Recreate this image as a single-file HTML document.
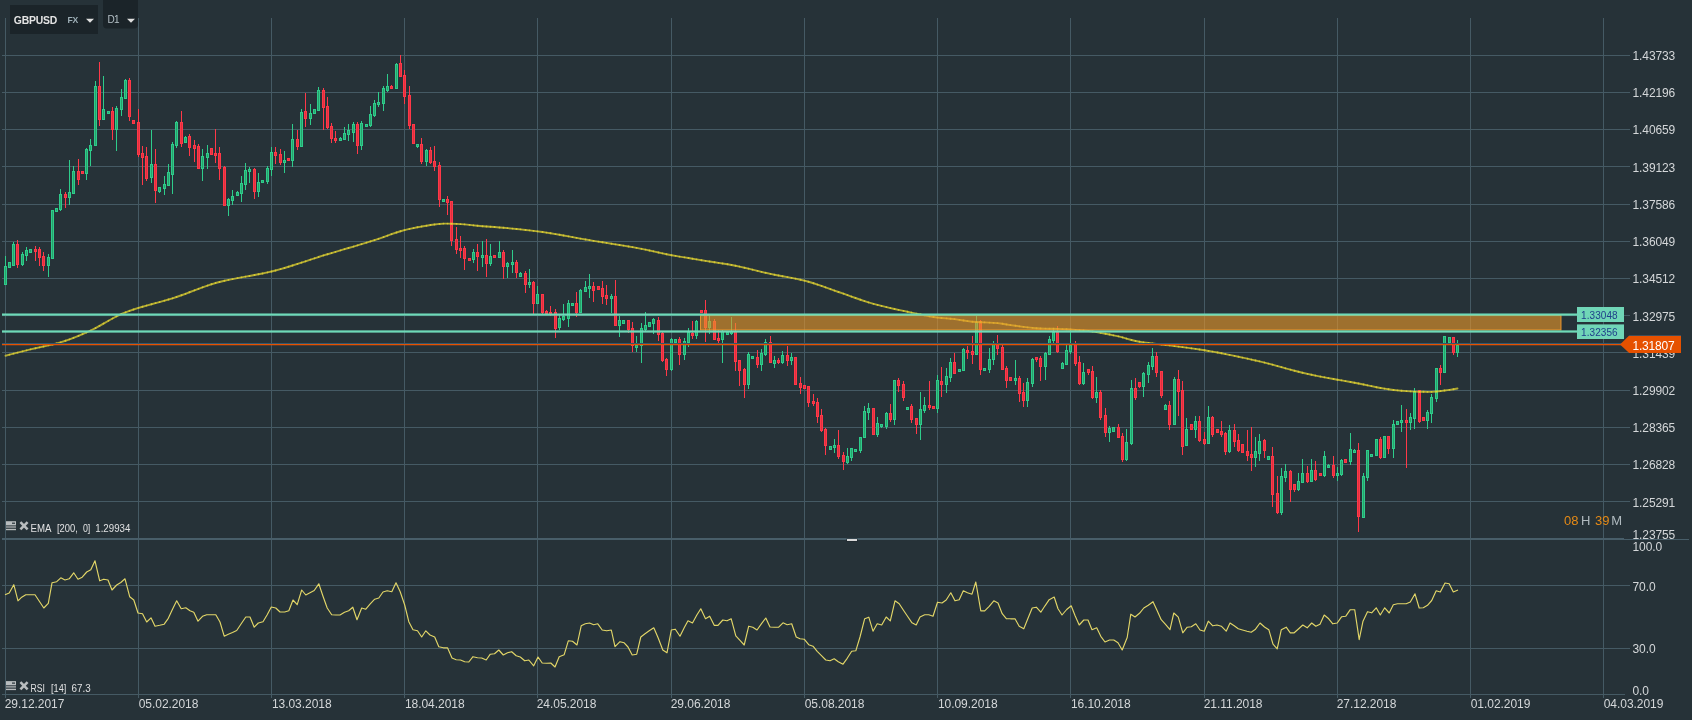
<!DOCTYPE html>
<html lang="en"><head><meta charset="utf-8"><title>GBPUSD D1</title>
<style>html,body{margin:0;padding:0;background:#263238;overflow:hidden}svg text{white-space:pre}</style>
</head><body>
<svg width="1692" height="720" viewBox="0 0 1692 720" style="display:block;will-change:transform">
<rect x="0" y="0" width="1692" height="720" fill="#263238"/>
<g fill="#455a64" shape-rendering="crispEdges">
<rect x="2" y="55" width="1628" height="1"/>
<rect x="2" y="92" width="1628" height="1"/>
<rect x="2" y="129" width="1628" height="1"/>
<rect x="2" y="166" width="1628" height="1"/>
<rect x="2" y="204" width="1628" height="1"/>
<rect x="2" y="241" width="1628" height="1"/>
<rect x="2" y="278" width="1628" height="1"/>
<rect x="2" y="315" width="1628" height="1"/>
<rect x="2" y="352" width="1628" height="1"/>
<rect x="2" y="390" width="1628" height="1"/>
<rect x="2" y="427" width="1628" height="1"/>
<rect x="2" y="464" width="1628" height="1"/>
<rect x="2" y="501" width="1628" height="1"/>
<rect x="2" y="585" width="1628" height="1"/>
<rect x="2" y="648" width="1628" height="1"/>
<rect x="2" y="694" width="1623" height="1"/>
<rect x="5" y="18" width="1" height="680"/>
<rect x="138" y="18" width="1" height="680"/>
<rect x="271" y="18" width="1" height="680"/>
<rect x="404" y="18" width="1" height="680"/>
<rect x="537" y="18" width="1" height="680"/>
<rect x="671" y="18" width="1" height="680"/>
<rect x="804" y="18" width="1" height="680"/>
<rect x="937" y="18" width="1" height="680"/>
<rect x="1070" y="18" width="1" height="680"/>
<rect x="1204" y="18" width="1" height="680"/>
<rect x="1337" y="18" width="1" height="680"/>
<rect x="1470" y="18" width="1" height="680"/>
<rect x="1603" y="18" width="1" height="680"/>
</g>
<g shape-rendering="crispEdges">
<rect x="5" y="256" width="1" height="10" fill="#2ecc8b"/>
<rect x="4" y="266" width="3" height="19" fill="#2ecc8b"/>
<rect x="5" y="267" width="1" height="17" fill="#27a26b"/>
<rect x="8" y="262" width="3" height="6" fill="#2ecc8b"/>
<rect x="9" y="263" width="1" height="4" fill="#27a26b"/>
<rect x="13" y="242" width="1" height="2" fill="#2ecc8b"/>
<rect x="12" y="244" width="3" height="22" fill="#2ecc8b"/>
<rect x="13" y="245" width="1" height="20" fill="#27a26b"/>
<rect x="17" y="240" width="1" height="4" fill="#ff3848"/>
<rect x="17" y="265" width="1" height="3" fill="#ff3848"/>
<rect x="16" y="244" width="3" height="21" fill="#ff3848"/>
<rect x="17" y="245" width="1" height="19" fill="#df303f"/>
<rect x="22" y="252" width="1" height="2" fill="#2ecc8b"/>
<rect x="22" y="265" width="1" height="1" fill="#2ecc8b"/>
<rect x="21" y="254" width="3" height="11" fill="#2ecc8b"/>
<rect x="22" y="255" width="1" height="9" fill="#27a26b"/>
<rect x="26" y="247" width="1" height="3" fill="#2ecc8b"/>
<rect x="26" y="256" width="1" height="5" fill="#2ecc8b"/>
<rect x="25" y="250" width="3" height="6" fill="#2ecc8b"/>
<rect x="26" y="251" width="1" height="4" fill="#27a26b"/>
<rect x="29" y="249" width="3" height="4" fill="#2ecc8b"/>
<rect x="30" y="250" width="1" height="2" fill="#27a26b"/>
<rect x="35" y="246" width="1" height="3" fill="#ff3848"/>
<rect x="35" y="252" width="1" height="9" fill="#ff3848"/>
<rect x="34" y="249" width="3" height="3" fill="#ff3848"/>
<rect x="35" y="250" width="1" height="1" fill="#df303f"/>
<rect x="39" y="247" width="1" height="2" fill="#ff3848"/>
<rect x="39" y="258" width="1" height="8" fill="#ff3848"/>
<rect x="38" y="249" width="3" height="9" fill="#ff3848"/>
<rect x="39" y="250" width="1" height="7" fill="#df303f"/>
<rect x="43" y="252" width="1" height="4" fill="#ff3848"/>
<rect x="43" y="266" width="1" height="5" fill="#ff3848"/>
<rect x="42" y="256" width="3" height="10" fill="#ff3848"/>
<rect x="43" y="257" width="1" height="8" fill="#df303f"/>
<rect x="48" y="254" width="1" height="3" fill="#2ecc8b"/>
<rect x="48" y="266" width="1" height="11" fill="#2ecc8b"/>
<rect x="47" y="257" width="3" height="9" fill="#2ecc8b"/>
<rect x="48" y="258" width="1" height="7" fill="#27a26b"/>
<rect x="51" y="210" width="3" height="49" fill="#2ecc8b"/>
<rect x="52" y="211" width="1" height="47" fill="#27a26b"/>
<rect x="55" y="208" width="3" height="4" fill="#2ecc8b"/>
<rect x="56" y="209" width="1" height="2" fill="#27a26b"/>
<rect x="60" y="189" width="1" height="5" fill="#2ecc8b"/>
<rect x="60" y="210" width="1" height="1" fill="#2ecc8b"/>
<rect x="59" y="194" width="3" height="16" fill="#2ecc8b"/>
<rect x="60" y="195" width="1" height="14" fill="#27a26b"/>
<rect x="65" y="192" width="1" height="2" fill="#ff3848"/>
<rect x="65" y="198" width="1" height="10" fill="#ff3848"/>
<rect x="64" y="194" width="3" height="4" fill="#ff3848"/>
<rect x="65" y="195" width="1" height="2" fill="#df303f"/>
<rect x="69" y="160" width="1" height="32" fill="#2ecc8b"/>
<rect x="69" y="198" width="1" height="7" fill="#2ecc8b"/>
<rect x="68" y="192" width="3" height="6" fill="#2ecc8b"/>
<rect x="69" y="193" width="1" height="4" fill="#27a26b"/>
<rect x="73" y="166" width="1" height="5" fill="#2ecc8b"/>
<rect x="72" y="171" width="3" height="23" fill="#2ecc8b"/>
<rect x="73" y="172" width="1" height="21" fill="#27a26b"/>
<rect x="78" y="159" width="1" height="12" fill="#ff3848"/>
<rect x="78" y="180" width="1" height="5" fill="#ff3848"/>
<rect x="77" y="171" width="3" height="9" fill="#ff3848"/>
<rect x="78" y="172" width="1" height="7" fill="#df303f"/>
<rect x="81" y="171" width="3" height="3" fill="#ff3848"/>
<rect x="82" y="172" width="1" height="1" fill="#df303f"/>
<rect x="86" y="148" width="1" height="1" fill="#2ecc8b"/>
<rect x="86" y="174" width="1" height="6" fill="#2ecc8b"/>
<rect x="85" y="149" width="3" height="25" fill="#2ecc8b"/>
<rect x="86" y="150" width="1" height="23" fill="#27a26b"/>
<rect x="90" y="139" width="1" height="6" fill="#2ecc8b"/>
<rect x="90" y="151" width="1" height="15" fill="#2ecc8b"/>
<rect x="89" y="145" width="3" height="6" fill="#2ecc8b"/>
<rect x="90" y="146" width="1" height="4" fill="#27a26b"/>
<rect x="95" y="81" width="1" height="5" fill="#2ecc8b"/>
<rect x="94" y="86" width="3" height="60" fill="#2ecc8b"/>
<rect x="95" y="87" width="1" height="58" fill="#27a26b"/>
<rect x="99" y="62" width="1" height="24" fill="#ff3848"/>
<rect x="99" y="120" width="1" height="6" fill="#ff3848"/>
<rect x="98" y="86" width="3" height="34" fill="#ff3848"/>
<rect x="99" y="87" width="1" height="32" fill="#df303f"/>
<rect x="103" y="76" width="1" height="33" fill="#2ecc8b"/>
<rect x="102" y="109" width="3" height="11" fill="#2ecc8b"/>
<rect x="103" y="110" width="1" height="9" fill="#27a26b"/>
<rect x="107" y="111" width="3" height="3" fill="#2ecc8b"/>
<rect x="108" y="112" width="1" height="1" fill="#27a26b"/>
<rect x="112" y="107" width="1" height="4" fill="#ff3848"/>
<rect x="112" y="130" width="1" height="10" fill="#ff3848"/>
<rect x="111" y="111" width="3" height="19" fill="#ff3848"/>
<rect x="112" y="112" width="1" height="17" fill="#df303f"/>
<rect x="116" y="106" width="1" height="2" fill="#2ecc8b"/>
<rect x="116" y="130" width="1" height="21" fill="#2ecc8b"/>
<rect x="115" y="108" width="3" height="22" fill="#2ecc8b"/>
<rect x="116" y="109" width="1" height="20" fill="#27a26b"/>
<rect x="121" y="89" width="1" height="8" fill="#2ecc8b"/>
<rect x="121" y="110" width="1" height="6" fill="#2ecc8b"/>
<rect x="120" y="97" width="3" height="13" fill="#2ecc8b"/>
<rect x="121" y="98" width="1" height="11" fill="#27a26b"/>
<rect x="125" y="79" width="1" height="1" fill="#2ecc8b"/>
<rect x="124" y="80" width="3" height="19" fill="#2ecc8b"/>
<rect x="125" y="81" width="1" height="17" fill="#27a26b"/>
<rect x="129" y="78" width="1" height="2" fill="#ff3848"/>
<rect x="129" y="117" width="1" height="4" fill="#ff3848"/>
<rect x="128" y="80" width="3" height="37" fill="#ff3848"/>
<rect x="129" y="81" width="1" height="35" fill="#df303f"/>
<rect x="132" y="120" width="3" height="4" fill="#ff3848"/>
<rect x="133" y="121" width="1" height="2" fill="#df303f"/>
<rect x="138" y="109" width="1" height="13" fill="#ff3848"/>
<rect x="138" y="155" width="1" height="2" fill="#ff3848"/>
<rect x="137" y="122" width="3" height="33" fill="#ff3848"/>
<rect x="138" y="123" width="1" height="31" fill="#df303f"/>
<rect x="142" y="146" width="1" height="7" fill="#ff3848"/>
<rect x="142" y="158" width="1" height="27" fill="#ff3848"/>
<rect x="141" y="153" width="3" height="5" fill="#ff3848"/>
<rect x="142" y="154" width="1" height="3" fill="#df303f"/>
<rect x="146" y="147" width="1" height="9" fill="#ff3848"/>
<rect x="146" y="179" width="1" height="2" fill="#ff3848"/>
<rect x="145" y="156" width="3" height="23" fill="#ff3848"/>
<rect x="146" y="157" width="1" height="21" fill="#df303f"/>
<rect x="151" y="130" width="1" height="34" fill="#2ecc8b"/>
<rect x="151" y="178" width="1" height="5" fill="#2ecc8b"/>
<rect x="150" y="164" width="3" height="14" fill="#2ecc8b"/>
<rect x="151" y="165" width="1" height="12" fill="#27a26b"/>
<rect x="155" y="149" width="1" height="15" fill="#ff3848"/>
<rect x="155" y="191" width="1" height="12" fill="#ff3848"/>
<rect x="154" y="164" width="3" height="27" fill="#ff3848"/>
<rect x="155" y="165" width="1" height="25" fill="#df303f"/>
<rect x="159" y="192" width="1" height="1" fill="#2ecc8b"/>
<rect x="158" y="187" width="3" height="5" fill="#2ecc8b"/>
<rect x="159" y="188" width="1" height="3" fill="#27a26b"/>
<rect x="164" y="176" width="1" height="8" fill="#2ecc8b"/>
<rect x="164" y="189" width="1" height="6" fill="#2ecc8b"/>
<rect x="163" y="184" width="3" height="5" fill="#2ecc8b"/>
<rect x="164" y="185" width="1" height="3" fill="#27a26b"/>
<rect x="168" y="164" width="1" height="8" fill="#2ecc8b"/>
<rect x="167" y="172" width="3" height="14" fill="#2ecc8b"/>
<rect x="168" y="173" width="1" height="12" fill="#27a26b"/>
<rect x="172" y="142" width="1" height="2" fill="#2ecc8b"/>
<rect x="172" y="175" width="1" height="19" fill="#2ecc8b"/>
<rect x="171" y="144" width="3" height="31" fill="#2ecc8b"/>
<rect x="172" y="145" width="1" height="29" fill="#27a26b"/>
<rect x="176" y="121" width="1" height="1" fill="#2ecc8b"/>
<rect x="176" y="146" width="1" height="2" fill="#2ecc8b"/>
<rect x="175" y="122" width="3" height="24" fill="#2ecc8b"/>
<rect x="176" y="123" width="1" height="22" fill="#27a26b"/>
<rect x="181" y="111" width="1" height="11" fill="#ff3848"/>
<rect x="181" y="144" width="1" height="3" fill="#ff3848"/>
<rect x="180" y="122" width="3" height="22" fill="#ff3848"/>
<rect x="181" y="123" width="1" height="20" fill="#df303f"/>
<rect x="185" y="136" width="1" height="1" fill="#2ecc8b"/>
<rect x="184" y="137" width="3" height="6" fill="#2ecc8b"/>
<rect x="185" y="138" width="1" height="4" fill="#27a26b"/>
<rect x="189" y="134" width="1" height="2" fill="#ff3848"/>
<rect x="189" y="148" width="1" height="8" fill="#ff3848"/>
<rect x="188" y="136" width="3" height="12" fill="#ff3848"/>
<rect x="189" y="137" width="1" height="10" fill="#df303f"/>
<rect x="194" y="140" width="1" height="5" fill="#ff3848"/>
<rect x="194" y="149" width="1" height="13" fill="#ff3848"/>
<rect x="193" y="145" width="3" height="4" fill="#ff3848"/>
<rect x="194" y="146" width="1" height="2" fill="#df303f"/>
<rect x="198" y="144" width="1" height="2" fill="#ff3848"/>
<rect x="197" y="146" width="3" height="23" fill="#ff3848"/>
<rect x="198" y="147" width="1" height="21" fill="#df303f"/>
<rect x="202" y="149" width="1" height="7" fill="#2ecc8b"/>
<rect x="202" y="169" width="1" height="12" fill="#2ecc8b"/>
<rect x="201" y="156" width="3" height="13" fill="#2ecc8b"/>
<rect x="202" y="157" width="1" height="11" fill="#27a26b"/>
<rect x="207" y="145" width="1" height="8" fill="#2ecc8b"/>
<rect x="207" y="158" width="1" height="11" fill="#2ecc8b"/>
<rect x="206" y="153" width="3" height="5" fill="#2ecc8b"/>
<rect x="207" y="154" width="1" height="3" fill="#27a26b"/>
<rect x="210" y="148" width="3" height="7" fill="#ff3848"/>
<rect x="211" y="149" width="1" height="5" fill="#df303f"/>
<rect x="215" y="129" width="1" height="24" fill="#ff3848"/>
<rect x="215" y="156" width="1" height="7" fill="#ff3848"/>
<rect x="214" y="153" width="3" height="3" fill="#ff3848"/>
<rect x="215" y="154" width="1" height="1" fill="#df303f"/>
<rect x="219" y="147" width="1" height="6" fill="#ff3848"/>
<rect x="219" y="169" width="1" height="11" fill="#ff3848"/>
<rect x="218" y="153" width="3" height="16" fill="#ff3848"/>
<rect x="219" y="154" width="1" height="14" fill="#df303f"/>
<rect x="224" y="166" width="1" height="1" fill="#ff3848"/>
<rect x="223" y="167" width="3" height="39" fill="#ff3848"/>
<rect x="224" y="168" width="1" height="37" fill="#df303f"/>
<rect x="228" y="198" width="1" height="1" fill="#2ecc8b"/>
<rect x="228" y="206" width="1" height="10" fill="#2ecc8b"/>
<rect x="227" y="199" width="3" height="7" fill="#2ecc8b"/>
<rect x="228" y="200" width="1" height="5" fill="#27a26b"/>
<rect x="232" y="190" width="1" height="6" fill="#2ecc8b"/>
<rect x="232" y="201" width="1" height="4" fill="#2ecc8b"/>
<rect x="231" y="196" width="3" height="5" fill="#2ecc8b"/>
<rect x="232" y="197" width="1" height="3" fill="#27a26b"/>
<rect x="237" y="191" width="1" height="1" fill="#2ecc8b"/>
<rect x="236" y="192" width="3" height="4" fill="#2ecc8b"/>
<rect x="237" y="193" width="1" height="2" fill="#27a26b"/>
<rect x="241" y="176" width="1" height="7" fill="#2ecc8b"/>
<rect x="241" y="194" width="1" height="8" fill="#2ecc8b"/>
<rect x="240" y="183" width="3" height="11" fill="#2ecc8b"/>
<rect x="241" y="184" width="1" height="9" fill="#27a26b"/>
<rect x="245" y="163" width="1" height="7" fill="#2ecc8b"/>
<rect x="245" y="185" width="1" height="5" fill="#2ecc8b"/>
<rect x="244" y="170" width="3" height="15" fill="#2ecc8b"/>
<rect x="245" y="171" width="1" height="13" fill="#27a26b"/>
<rect x="249" y="167" width="1" height="2" fill="#2ecc8b"/>
<rect x="249" y="172" width="1" height="11" fill="#2ecc8b"/>
<rect x="248" y="169" width="3" height="3" fill="#2ecc8b"/>
<rect x="249" y="170" width="1" height="1" fill="#27a26b"/>
<rect x="254" y="168" width="1" height="1" fill="#ff3848"/>
<rect x="254" y="192" width="1" height="7" fill="#ff3848"/>
<rect x="253" y="169" width="3" height="23" fill="#ff3848"/>
<rect x="254" y="170" width="1" height="21" fill="#df303f"/>
<rect x="258" y="173" width="1" height="9" fill="#2ecc8b"/>
<rect x="258" y="192" width="1" height="5" fill="#2ecc8b"/>
<rect x="257" y="182" width="3" height="10" fill="#2ecc8b"/>
<rect x="258" y="183" width="1" height="8" fill="#27a26b"/>
<rect x="261" y="180" width="3" height="3" fill="#2ecc8b"/>
<rect x="262" y="181" width="1" height="1" fill="#27a26b"/>
<rect x="267" y="166" width="1" height="2" fill="#2ecc8b"/>
<rect x="267" y="182" width="1" height="2" fill="#2ecc8b"/>
<rect x="266" y="168" width="3" height="14" fill="#2ecc8b"/>
<rect x="267" y="169" width="1" height="12" fill="#27a26b"/>
<rect x="271" y="147" width="1" height="5" fill="#2ecc8b"/>
<rect x="271" y="170" width="1" height="6" fill="#2ecc8b"/>
<rect x="270" y="152" width="3" height="18" fill="#2ecc8b"/>
<rect x="271" y="153" width="1" height="16" fill="#27a26b"/>
<rect x="275" y="147" width="1" height="5" fill="#ff3848"/>
<rect x="275" y="156" width="1" height="8" fill="#ff3848"/>
<rect x="274" y="152" width="3" height="4" fill="#ff3848"/>
<rect x="275" y="153" width="1" height="2" fill="#df303f"/>
<rect x="280" y="149" width="1" height="5" fill="#ff3848"/>
<rect x="280" y="163" width="1" height="2" fill="#ff3848"/>
<rect x="279" y="154" width="3" height="9" fill="#ff3848"/>
<rect x="280" y="155" width="1" height="7" fill="#df303f"/>
<rect x="284" y="151" width="1" height="9" fill="#2ecc8b"/>
<rect x="284" y="163" width="1" height="10" fill="#2ecc8b"/>
<rect x="283" y="160" width="3" height="3" fill="#2ecc8b"/>
<rect x="284" y="161" width="1" height="1" fill="#27a26b"/>
<rect x="287" y="158" width="3" height="3" fill="#ff3848"/>
<rect x="288" y="159" width="1" height="1" fill="#df303f"/>
<rect x="292" y="124" width="1" height="15" fill="#2ecc8b"/>
<rect x="292" y="161" width="1" height="6" fill="#2ecc8b"/>
<rect x="291" y="139" width="3" height="22" fill="#2ecc8b"/>
<rect x="292" y="140" width="1" height="20" fill="#27a26b"/>
<rect x="297" y="130" width="1" height="9" fill="#ff3848"/>
<rect x="297" y="147" width="1" height="3" fill="#ff3848"/>
<rect x="296" y="139" width="3" height="8" fill="#ff3848"/>
<rect x="297" y="140" width="1" height="6" fill="#df303f"/>
<rect x="301" y="109" width="1" height="3" fill="#2ecc8b"/>
<rect x="300" y="112" width="3" height="35" fill="#2ecc8b"/>
<rect x="301" y="113" width="1" height="33" fill="#27a26b"/>
<rect x="305" y="93" width="1" height="18" fill="#ff3848"/>
<rect x="305" y="119" width="1" height="8" fill="#ff3848"/>
<rect x="304" y="111" width="3" height="8" fill="#ff3848"/>
<rect x="305" y="112" width="1" height="6" fill="#df303f"/>
<rect x="310" y="104" width="1" height="9" fill="#2ecc8b"/>
<rect x="310" y="119" width="1" height="6" fill="#2ecc8b"/>
<rect x="309" y="113" width="3" height="6" fill="#2ecc8b"/>
<rect x="310" y="114" width="1" height="4" fill="#27a26b"/>
<rect x="313" y="109" width="3" height="5" fill="#2ecc8b"/>
<rect x="314" y="110" width="1" height="3" fill="#27a26b"/>
<rect x="318" y="87" width="1" height="3" fill="#2ecc8b"/>
<rect x="317" y="90" width="3" height="21" fill="#2ecc8b"/>
<rect x="318" y="91" width="1" height="19" fill="#27a26b"/>
<rect x="323" y="88" width="1" height="2" fill="#ff3848"/>
<rect x="323" y="108" width="1" height="22" fill="#ff3848"/>
<rect x="322" y="90" width="3" height="18" fill="#ff3848"/>
<rect x="323" y="91" width="1" height="16" fill="#df303f"/>
<rect x="327" y="97" width="1" height="9" fill="#ff3848"/>
<rect x="327" y="128" width="1" height="1" fill="#ff3848"/>
<rect x="326" y="106" width="3" height="22" fill="#ff3848"/>
<rect x="327" y="107" width="1" height="20" fill="#df303f"/>
<rect x="331" y="123" width="1" height="3" fill="#ff3848"/>
<rect x="331" y="139" width="1" height="4" fill="#ff3848"/>
<rect x="330" y="126" width="3" height="13" fill="#ff3848"/>
<rect x="331" y="127" width="1" height="11" fill="#df303f"/>
<rect x="335" y="131" width="1" height="7" fill="#ff3848"/>
<rect x="335" y="141" width="1" height="2" fill="#ff3848"/>
<rect x="334" y="138" width="3" height="3" fill="#ff3848"/>
<rect x="335" y="139" width="1" height="1" fill="#df303f"/>
<rect x="340" y="137" width="1" height="1" fill="#2ecc8b"/>
<rect x="339" y="138" width="3" height="3" fill="#2ecc8b"/>
<rect x="340" y="139" width="1" height="1" fill="#27a26b"/>
<rect x="344" y="127" width="1" height="6" fill="#2ecc8b"/>
<rect x="343" y="133" width="3" height="7" fill="#2ecc8b"/>
<rect x="344" y="134" width="1" height="5" fill="#27a26b"/>
<rect x="348" y="124" width="1" height="6" fill="#2ecc8b"/>
<rect x="348" y="135" width="1" height="6" fill="#2ecc8b"/>
<rect x="347" y="130" width="3" height="5" fill="#2ecc8b"/>
<rect x="348" y="131" width="1" height="3" fill="#27a26b"/>
<rect x="353" y="122" width="1" height="2" fill="#2ecc8b"/>
<rect x="353" y="133" width="1" height="9" fill="#2ecc8b"/>
<rect x="352" y="124" width="3" height="9" fill="#2ecc8b"/>
<rect x="353" y="125" width="1" height="7" fill="#27a26b"/>
<rect x="357" y="122" width="1" height="2" fill="#ff3848"/>
<rect x="357" y="146" width="1" height="8" fill="#ff3848"/>
<rect x="356" y="124" width="3" height="22" fill="#ff3848"/>
<rect x="357" y="125" width="1" height="20" fill="#df303f"/>
<rect x="361" y="121" width="1" height="2" fill="#2ecc8b"/>
<rect x="361" y="146" width="1" height="4" fill="#2ecc8b"/>
<rect x="360" y="123" width="3" height="23" fill="#2ecc8b"/>
<rect x="361" y="124" width="1" height="21" fill="#27a26b"/>
<rect x="365" y="124" width="3" height="3" fill="#2ecc8b"/>
<rect x="366" y="125" width="1" height="1" fill="#27a26b"/>
<rect x="370" y="106" width="1" height="8" fill="#2ecc8b"/>
<rect x="370" y="126" width="1" height="1" fill="#2ecc8b"/>
<rect x="369" y="114" width="3" height="12" fill="#2ecc8b"/>
<rect x="370" y="115" width="1" height="10" fill="#27a26b"/>
<rect x="374" y="100" width="1" height="3" fill="#2ecc8b"/>
<rect x="374" y="116" width="1" height="1" fill="#2ecc8b"/>
<rect x="373" y="103" width="3" height="13" fill="#2ecc8b"/>
<rect x="374" y="104" width="1" height="11" fill="#27a26b"/>
<rect x="378" y="92" width="1" height="10" fill="#2ecc8b"/>
<rect x="378" y="105" width="1" height="2" fill="#2ecc8b"/>
<rect x="377" y="102" width="3" height="3" fill="#2ecc8b"/>
<rect x="378" y="103" width="1" height="1" fill="#27a26b"/>
<rect x="383" y="86" width="1" height="2" fill="#2ecc8b"/>
<rect x="383" y="104" width="1" height="7" fill="#2ecc8b"/>
<rect x="382" y="88" width="3" height="16" fill="#2ecc8b"/>
<rect x="383" y="89" width="1" height="14" fill="#27a26b"/>
<rect x="387" y="74" width="1" height="12" fill="#2ecc8b"/>
<rect x="387" y="91" width="1" height="1" fill="#2ecc8b"/>
<rect x="386" y="86" width="3" height="5" fill="#2ecc8b"/>
<rect x="387" y="87" width="1" height="3" fill="#27a26b"/>
<rect x="391" y="85" width="1" height="1" fill="#ff3848"/>
<rect x="390" y="86" width="3" height="3" fill="#ff3848"/>
<rect x="391" y="87" width="1" height="1" fill="#df303f"/>
<rect x="396" y="63" width="1" height="1" fill="#2ecc8b"/>
<rect x="395" y="64" width="3" height="25" fill="#2ecc8b"/>
<rect x="396" y="65" width="1" height="23" fill="#27a26b"/>
<rect x="400" y="55" width="1" height="8" fill="#ff3848"/>
<rect x="399" y="63" width="3" height="14" fill="#ff3848"/>
<rect x="400" y="64" width="1" height="12" fill="#df303f"/>
<rect x="404" y="70" width="1" height="5" fill="#ff3848"/>
<rect x="404" y="97" width="1" height="7" fill="#ff3848"/>
<rect x="403" y="75" width="3" height="22" fill="#ff3848"/>
<rect x="404" y="76" width="1" height="20" fill="#df303f"/>
<rect x="409" y="86" width="1" height="9" fill="#ff3848"/>
<rect x="409" y="126" width="1" height="3" fill="#ff3848"/>
<rect x="408" y="95" width="3" height="31" fill="#ff3848"/>
<rect x="409" y="96" width="1" height="29" fill="#df303f"/>
<rect x="412" y="124" width="3" height="20" fill="#ff3848"/>
<rect x="413" y="125" width="1" height="18" fill="#df303f"/>
<rect x="417" y="147" width="1" height="1" fill="#2ecc8b"/>
<rect x="416" y="144" width="3" height="3" fill="#2ecc8b"/>
<rect x="417" y="145" width="1" height="1" fill="#27a26b"/>
<rect x="421" y="138" width="1" height="6" fill="#ff3848"/>
<rect x="421" y="162" width="1" height="2" fill="#ff3848"/>
<rect x="420" y="144" width="3" height="18" fill="#ff3848"/>
<rect x="421" y="145" width="1" height="16" fill="#df303f"/>
<rect x="426" y="149" width="1" height="1" fill="#2ecc8b"/>
<rect x="426" y="162" width="1" height="4" fill="#2ecc8b"/>
<rect x="425" y="150" width="3" height="12" fill="#2ecc8b"/>
<rect x="426" y="151" width="1" height="10" fill="#27a26b"/>
<rect x="430" y="147" width="1" height="3" fill="#ff3848"/>
<rect x="430" y="163" width="1" height="1" fill="#ff3848"/>
<rect x="429" y="150" width="3" height="13" fill="#ff3848"/>
<rect x="430" y="151" width="1" height="11" fill="#df303f"/>
<rect x="434" y="146" width="1" height="15" fill="#ff3848"/>
<rect x="434" y="167" width="1" height="4" fill="#ff3848"/>
<rect x="433" y="161" width="3" height="6" fill="#ff3848"/>
<rect x="434" y="162" width="1" height="4" fill="#df303f"/>
<rect x="439" y="162" width="1" height="3" fill="#ff3848"/>
<rect x="439" y="200" width="1" height="7" fill="#ff3848"/>
<rect x="438" y="165" width="3" height="35" fill="#ff3848"/>
<rect x="439" y="166" width="1" height="33" fill="#df303f"/>
<rect x="442" y="199" width="3" height="3" fill="#2ecc8b"/>
<rect x="443" y="200" width="1" height="1" fill="#27a26b"/>
<rect x="447" y="196" width="1" height="3" fill="#ff3848"/>
<rect x="447" y="203" width="1" height="12" fill="#ff3848"/>
<rect x="446" y="199" width="3" height="4" fill="#ff3848"/>
<rect x="447" y="200" width="1" height="2" fill="#df303f"/>
<rect x="451" y="241" width="1" height="5" fill="#ff3848"/>
<rect x="450" y="201" width="3" height="40" fill="#ff3848"/>
<rect x="451" y="202" width="1" height="38" fill="#df303f"/>
<rect x="456" y="227" width="1" height="12" fill="#ff3848"/>
<rect x="456" y="250" width="1" height="4" fill="#ff3848"/>
<rect x="455" y="239" width="3" height="11" fill="#ff3848"/>
<rect x="456" y="240" width="1" height="9" fill="#df303f"/>
<rect x="460" y="236" width="1" height="12" fill="#ff3848"/>
<rect x="460" y="251" width="1" height="7" fill="#ff3848"/>
<rect x="459" y="248" width="3" height="3" fill="#ff3848"/>
<rect x="460" y="249" width="1" height="1" fill="#df303f"/>
<rect x="464" y="246" width="1" height="2" fill="#ff3848"/>
<rect x="464" y="259" width="1" height="11" fill="#ff3848"/>
<rect x="463" y="248" width="3" height="11" fill="#ff3848"/>
<rect x="464" y="249" width="1" height="9" fill="#df303f"/>
<rect x="468" y="258" width="3" height="3" fill="#ff3848"/>
<rect x="469" y="259" width="1" height="1" fill="#df303f"/>
<rect x="473" y="249" width="1" height="3" fill="#2ecc8b"/>
<rect x="473" y="260" width="1" height="3" fill="#2ecc8b"/>
<rect x="472" y="252" width="3" height="8" fill="#2ecc8b"/>
<rect x="473" y="253" width="1" height="6" fill="#27a26b"/>
<rect x="477" y="244" width="1" height="8" fill="#ff3848"/>
<rect x="477" y="257" width="1" height="14" fill="#ff3848"/>
<rect x="476" y="252" width="3" height="5" fill="#ff3848"/>
<rect x="477" y="253" width="1" height="3" fill="#df303f"/>
<rect x="482" y="241" width="1" height="14" fill="#2ecc8b"/>
<rect x="482" y="258" width="1" height="9" fill="#2ecc8b"/>
<rect x="481" y="255" width="3" height="3" fill="#2ecc8b"/>
<rect x="482" y="256" width="1" height="1" fill="#27a26b"/>
<rect x="486" y="239" width="1" height="16" fill="#ff3848"/>
<rect x="486" y="264" width="1" height="13" fill="#ff3848"/>
<rect x="485" y="255" width="3" height="9" fill="#ff3848"/>
<rect x="486" y="256" width="1" height="7" fill="#df303f"/>
<rect x="490" y="244" width="1" height="12" fill="#2ecc8b"/>
<rect x="490" y="264" width="1" height="2" fill="#2ecc8b"/>
<rect x="489" y="256" width="3" height="8" fill="#2ecc8b"/>
<rect x="490" y="257" width="1" height="6" fill="#27a26b"/>
<rect x="493" y="255" width="3" height="3" fill="#ff3848"/>
<rect x="494" y="256" width="1" height="1" fill="#df303f"/>
<rect x="499" y="241" width="1" height="11" fill="#2ecc8b"/>
<rect x="498" y="252" width="3" height="6" fill="#2ecc8b"/>
<rect x="499" y="253" width="1" height="4" fill="#27a26b"/>
<rect x="503" y="250" width="1" height="2" fill="#ff3848"/>
<rect x="503" y="267" width="1" height="12" fill="#ff3848"/>
<rect x="502" y="252" width="3" height="15" fill="#ff3848"/>
<rect x="503" y="253" width="1" height="13" fill="#df303f"/>
<rect x="507" y="262" width="1" height="1" fill="#2ecc8b"/>
<rect x="507" y="267" width="1" height="11" fill="#2ecc8b"/>
<rect x="506" y="263" width="3" height="4" fill="#2ecc8b"/>
<rect x="507" y="264" width="1" height="2" fill="#27a26b"/>
<rect x="512" y="250" width="1" height="12" fill="#2ecc8b"/>
<rect x="512" y="265" width="1" height="8" fill="#2ecc8b"/>
<rect x="511" y="262" width="3" height="3" fill="#2ecc8b"/>
<rect x="512" y="263" width="1" height="1" fill="#27a26b"/>
<rect x="516" y="260" width="1" height="2" fill="#ff3848"/>
<rect x="516" y="273" width="1" height="5" fill="#ff3848"/>
<rect x="515" y="262" width="3" height="11" fill="#ff3848"/>
<rect x="516" y="263" width="1" height="9" fill="#df303f"/>
<rect x="520" y="272" width="1" height="1" fill="#2ecc8b"/>
<rect x="519" y="273" width="3" height="4" fill="#2ecc8b"/>
<rect x="520" y="274" width="1" height="2" fill="#27a26b"/>
<rect x="525" y="271" width="1" height="2" fill="#ff3848"/>
<rect x="525" y="285" width="1" height="8" fill="#ff3848"/>
<rect x="524" y="273" width="3" height="12" fill="#ff3848"/>
<rect x="525" y="274" width="1" height="10" fill="#df303f"/>
<rect x="529" y="269" width="1" height="13" fill="#2ecc8b"/>
<rect x="529" y="285" width="1" height="3" fill="#2ecc8b"/>
<rect x="528" y="282" width="3" height="3" fill="#2ecc8b"/>
<rect x="529" y="283" width="1" height="1" fill="#27a26b"/>
<rect x="533" y="281" width="1" height="1" fill="#ff3848"/>
<rect x="533" y="304" width="1" height="10" fill="#ff3848"/>
<rect x="532" y="282" width="3" height="22" fill="#ff3848"/>
<rect x="533" y="283" width="1" height="20" fill="#df303f"/>
<rect x="537" y="286" width="1" height="8" fill="#2ecc8b"/>
<rect x="536" y="294" width="3" height="10" fill="#2ecc8b"/>
<rect x="537" y="295" width="1" height="8" fill="#27a26b"/>
<rect x="542" y="313" width="1" height="1" fill="#ff3848"/>
<rect x="541" y="294" width="3" height="19" fill="#ff3848"/>
<rect x="542" y="295" width="1" height="17" fill="#df303f"/>
<rect x="546" y="310" width="1" height="1" fill="#ff3848"/>
<rect x="545" y="311" width="3" height="3" fill="#ff3848"/>
<rect x="546" y="312" width="1" height="1" fill="#df303f"/>
<rect x="550" y="306" width="1" height="6" fill="#ff3848"/>
<rect x="550" y="314" width="1" height="2" fill="#ff3848"/>
<rect x="549" y="312" width="3" height="2" fill="#ff3848"/>
<rect x="555" y="309" width="1" height="3" fill="#ff3848"/>
<rect x="555" y="329" width="1" height="9" fill="#ff3848"/>
<rect x="554" y="312" width="3" height="17" fill="#ff3848"/>
<rect x="555" y="313" width="1" height="15" fill="#df303f"/>
<rect x="559" y="315" width="1" height="3" fill="#2ecc8b"/>
<rect x="559" y="328" width="1" height="2" fill="#2ecc8b"/>
<rect x="558" y="318" width="3" height="10" fill="#2ecc8b"/>
<rect x="559" y="319" width="1" height="8" fill="#27a26b"/>
<rect x="563" y="304" width="1" height="12" fill="#2ecc8b"/>
<rect x="563" y="320" width="1" height="1" fill="#2ecc8b"/>
<rect x="562" y="316" width="3" height="4" fill="#2ecc8b"/>
<rect x="563" y="317" width="1" height="2" fill="#27a26b"/>
<rect x="568" y="300" width="1" height="3" fill="#2ecc8b"/>
<rect x="568" y="319" width="1" height="8" fill="#2ecc8b"/>
<rect x="567" y="303" width="3" height="16" fill="#2ecc8b"/>
<rect x="568" y="304" width="1" height="14" fill="#27a26b"/>
<rect x="571" y="303" width="3" height="3" fill="#2ecc8b"/>
<rect x="572" y="304" width="1" height="1" fill="#27a26b"/>
<rect x="576" y="292" width="1" height="11" fill="#ff3848"/>
<rect x="576" y="313" width="1" height="4" fill="#ff3848"/>
<rect x="575" y="303" width="3" height="10" fill="#ff3848"/>
<rect x="576" y="304" width="1" height="8" fill="#df303f"/>
<rect x="580" y="289" width="1" height="1" fill="#2ecc8b"/>
<rect x="579" y="290" width="3" height="23" fill="#2ecc8b"/>
<rect x="580" y="291" width="1" height="21" fill="#27a26b"/>
<rect x="585" y="281" width="1" height="6" fill="#2ecc8b"/>
<rect x="584" y="287" width="3" height="5" fill="#2ecc8b"/>
<rect x="585" y="288" width="1" height="3" fill="#27a26b"/>
<rect x="589" y="274" width="1" height="12" fill="#2ecc8b"/>
<rect x="589" y="289" width="1" height="9" fill="#2ecc8b"/>
<rect x="588" y="286" width="3" height="3" fill="#2ecc8b"/>
<rect x="589" y="287" width="1" height="1" fill="#27a26b"/>
<rect x="593" y="282" width="1" height="4" fill="#ff3848"/>
<rect x="593" y="291" width="1" height="11" fill="#ff3848"/>
<rect x="592" y="286" width="3" height="5" fill="#ff3848"/>
<rect x="593" y="287" width="1" height="3" fill="#df303f"/>
<rect x="597" y="286" width="3" height="4" fill="#ff3848"/>
<rect x="598" y="287" width="1" height="2" fill="#df303f"/>
<rect x="602" y="281" width="1" height="7" fill="#ff3848"/>
<rect x="602" y="297" width="1" height="7" fill="#ff3848"/>
<rect x="601" y="288" width="3" height="9" fill="#ff3848"/>
<rect x="602" y="289" width="1" height="7" fill="#df303f"/>
<rect x="606" y="285" width="1" height="10" fill="#ff3848"/>
<rect x="606" y="299" width="1" height="6" fill="#ff3848"/>
<rect x="605" y="295" width="3" height="4" fill="#ff3848"/>
<rect x="606" y="296" width="1" height="2" fill="#df303f"/>
<rect x="611" y="294" width="1" height="2" fill="#2ecc8b"/>
<rect x="611" y="299" width="1" height="14" fill="#2ecc8b"/>
<rect x="610" y="296" width="3" height="3" fill="#2ecc8b"/>
<rect x="611" y="297" width="1" height="1" fill="#27a26b"/>
<rect x="615" y="280" width="1" height="16" fill="#ff3848"/>
<rect x="614" y="296" width="3" height="30" fill="#ff3848"/>
<rect x="615" y="297" width="1" height="28" fill="#df303f"/>
<rect x="619" y="316" width="1" height="4" fill="#2ecc8b"/>
<rect x="619" y="326" width="1" height="11" fill="#2ecc8b"/>
<rect x="618" y="320" width="3" height="6" fill="#2ecc8b"/>
<rect x="619" y="321" width="1" height="4" fill="#27a26b"/>
<rect x="622" y="320" width="3" height="4" fill="#2ecc8b"/>
<rect x="623" y="321" width="1" height="2" fill="#27a26b"/>
<rect x="628" y="330" width="1" height="3" fill="#ff3848"/>
<rect x="627" y="320" width="3" height="10" fill="#ff3848"/>
<rect x="628" y="321" width="1" height="8" fill="#df303f"/>
<rect x="632" y="322" width="1" height="6" fill="#ff3848"/>
<rect x="632" y="346" width="1" height="6" fill="#ff3848"/>
<rect x="631" y="328" width="3" height="18" fill="#ff3848"/>
<rect x="632" y="329" width="1" height="16" fill="#df303f"/>
<rect x="636" y="336" width="1" height="9" fill="#2ecc8b"/>
<rect x="636" y="348" width="1" height="4" fill="#2ecc8b"/>
<rect x="635" y="345" width="3" height="3" fill="#2ecc8b"/>
<rect x="636" y="346" width="1" height="1" fill="#27a26b"/>
<rect x="641" y="323" width="1" height="5" fill="#2ecc8b"/>
<rect x="641" y="346" width="1" height="17" fill="#2ecc8b"/>
<rect x="640" y="328" width="3" height="18" fill="#2ecc8b"/>
<rect x="641" y="329" width="1" height="16" fill="#27a26b"/>
<rect x="645" y="312" width="1" height="13" fill="#2ecc8b"/>
<rect x="645" y="330" width="1" height="1" fill="#2ecc8b"/>
<rect x="644" y="325" width="3" height="5" fill="#2ecc8b"/>
<rect x="645" y="326" width="1" height="3" fill="#27a26b"/>
<rect x="648" y="322" width="3" height="5" fill="#2ecc8b"/>
<rect x="649" y="323" width="1" height="3" fill="#27a26b"/>
<rect x="653" y="318" width="1" height="1" fill="#2ecc8b"/>
<rect x="653" y="324" width="1" height="10" fill="#2ecc8b"/>
<rect x="652" y="319" width="3" height="5" fill="#2ecc8b"/>
<rect x="653" y="320" width="1" height="3" fill="#27a26b"/>
<rect x="658" y="317" width="1" height="3" fill="#ff3848"/>
<rect x="658" y="335" width="1" height="6" fill="#ff3848"/>
<rect x="657" y="320" width="3" height="15" fill="#ff3848"/>
<rect x="658" y="321" width="1" height="13" fill="#df303f"/>
<rect x="662" y="332" width="1" height="1" fill="#ff3848"/>
<rect x="662" y="361" width="1" height="1" fill="#ff3848"/>
<rect x="661" y="333" width="3" height="28" fill="#ff3848"/>
<rect x="662" y="334" width="1" height="26" fill="#df303f"/>
<rect x="666" y="358" width="1" height="1" fill="#ff3848"/>
<rect x="666" y="370" width="1" height="6" fill="#ff3848"/>
<rect x="665" y="359" width="3" height="11" fill="#ff3848"/>
<rect x="666" y="360" width="1" height="9" fill="#df303f"/>
<rect x="671" y="338" width="1" height="1" fill="#2ecc8b"/>
<rect x="671" y="370" width="1" height="1" fill="#2ecc8b"/>
<rect x="670" y="339" width="3" height="31" fill="#2ecc8b"/>
<rect x="671" y="340" width="1" height="29" fill="#27a26b"/>
<rect x="674" y="339" width="3" height="4" fill="#2ecc8b"/>
<rect x="675" y="340" width="1" height="2" fill="#27a26b"/>
<rect x="679" y="337" width="1" height="2" fill="#ff3848"/>
<rect x="679" y="355" width="1" height="10" fill="#ff3848"/>
<rect x="678" y="339" width="3" height="16" fill="#ff3848"/>
<rect x="679" y="340" width="1" height="14" fill="#df303f"/>
<rect x="684" y="338" width="1" height="3" fill="#2ecc8b"/>
<rect x="684" y="355" width="1" height="5" fill="#2ecc8b"/>
<rect x="683" y="341" width="3" height="14" fill="#2ecc8b"/>
<rect x="684" y="342" width="1" height="12" fill="#27a26b"/>
<rect x="688" y="328" width="1" height="4" fill="#2ecc8b"/>
<rect x="688" y="343" width="1" height="4" fill="#2ecc8b"/>
<rect x="687" y="332" width="3" height="11" fill="#2ecc8b"/>
<rect x="688" y="333" width="1" height="9" fill="#27a26b"/>
<rect x="692" y="321" width="1" height="12" fill="#ff3848"/>
<rect x="692" y="336" width="1" height="3" fill="#ff3848"/>
<rect x="691" y="333" width="3" height="3" fill="#ff3848"/>
<rect x="692" y="334" width="1" height="1" fill="#df303f"/>
<rect x="696" y="320" width="1" height="1" fill="#2ecc8b"/>
<rect x="696" y="336" width="1" height="3" fill="#2ecc8b"/>
<rect x="695" y="321" width="3" height="15" fill="#2ecc8b"/>
<rect x="696" y="322" width="1" height="13" fill="#27a26b"/>
<rect x="700" y="310" width="3" height="3" fill="#ff3848"/>
<rect x="701" y="311" width="1" height="1" fill="#df303f"/>
<rect x="705" y="300" width="1" height="10" fill="#ff3848"/>
<rect x="705" y="328" width="1" height="14" fill="#ff3848"/>
<rect x="704" y="310" width="3" height="18" fill="#ff3848"/>
<rect x="705" y="311" width="1" height="16" fill="#df303f"/>
<rect x="709" y="315" width="1" height="6" fill="#2ecc8b"/>
<rect x="709" y="328" width="1" height="6" fill="#2ecc8b"/>
<rect x="708" y="321" width="3" height="7" fill="#2ecc8b"/>
<rect x="709" y="322" width="1" height="5" fill="#27a26b"/>
<rect x="714" y="319" width="1" height="2" fill="#ff3848"/>
<rect x="713" y="321" width="3" height="19" fill="#ff3848"/>
<rect x="714" y="322" width="1" height="17" fill="#df303f"/>
<rect x="718" y="330" width="1" height="8" fill="#ff3848"/>
<rect x="718" y="341" width="1" height="2" fill="#ff3848"/>
<rect x="717" y="338" width="3" height="3" fill="#ff3848"/>
<rect x="718" y="339" width="1" height="1" fill="#df303f"/>
<rect x="722" y="330" width="1" height="1" fill="#2ecc8b"/>
<rect x="722" y="340" width="1" height="23" fill="#2ecc8b"/>
<rect x="721" y="331" width="3" height="9" fill="#2ecc8b"/>
<rect x="722" y="332" width="1" height="7" fill="#27a26b"/>
<rect x="726" y="332" width="3" height="3" fill="#2ecc8b"/>
<rect x="727" y="333" width="1" height="1" fill="#27a26b"/>
<rect x="731" y="317" width="1" height="14" fill="#2ecc8b"/>
<rect x="731" y="334" width="1" height="1" fill="#2ecc8b"/>
<rect x="730" y="331" width="3" height="3" fill="#2ecc8b"/>
<rect x="731" y="332" width="1" height="1" fill="#27a26b"/>
<rect x="735" y="323" width="1" height="8" fill="#ff3848"/>
<rect x="735" y="362" width="1" height="9" fill="#ff3848"/>
<rect x="734" y="331" width="3" height="31" fill="#ff3848"/>
<rect x="735" y="332" width="1" height="29" fill="#df303f"/>
<rect x="739" y="371" width="1" height="15" fill="#ff3848"/>
<rect x="738" y="360" width="3" height="11" fill="#ff3848"/>
<rect x="739" y="361" width="1" height="9" fill="#df303f"/>
<rect x="744" y="368" width="1" height="1" fill="#ff3848"/>
<rect x="744" y="385" width="1" height="13" fill="#ff3848"/>
<rect x="743" y="369" width="3" height="16" fill="#ff3848"/>
<rect x="744" y="370" width="1" height="14" fill="#df303f"/>
<rect x="748" y="352" width="1" height="2" fill="#2ecc8b"/>
<rect x="748" y="385" width="1" height="4" fill="#2ecc8b"/>
<rect x="747" y="354" width="3" height="31" fill="#2ecc8b"/>
<rect x="748" y="355" width="1" height="29" fill="#27a26b"/>
<rect x="751" y="356" width="3" height="3" fill="#2ecc8b"/>
<rect x="752" y="357" width="1" height="1" fill="#27a26b"/>
<rect x="757" y="350" width="1" height="7" fill="#ff3848"/>
<rect x="757" y="365" width="1" height="3" fill="#ff3848"/>
<rect x="756" y="357" width="3" height="8" fill="#ff3848"/>
<rect x="757" y="358" width="1" height="6" fill="#df303f"/>
<rect x="761" y="349" width="1" height="4" fill="#2ecc8b"/>
<rect x="761" y="365" width="1" height="6" fill="#2ecc8b"/>
<rect x="760" y="353" width="3" height="12" fill="#2ecc8b"/>
<rect x="761" y="354" width="1" height="10" fill="#27a26b"/>
<rect x="765" y="339" width="1" height="3" fill="#2ecc8b"/>
<rect x="765" y="355" width="1" height="1" fill="#2ecc8b"/>
<rect x="764" y="342" width="3" height="13" fill="#2ecc8b"/>
<rect x="765" y="343" width="1" height="11" fill="#27a26b"/>
<rect x="770" y="336" width="1" height="6" fill="#ff3848"/>
<rect x="769" y="342" width="3" height="21" fill="#ff3848"/>
<rect x="770" y="343" width="1" height="19" fill="#df303f"/>
<rect x="774" y="356" width="1" height="4" fill="#2ecc8b"/>
<rect x="774" y="364" width="1" height="4" fill="#2ecc8b"/>
<rect x="773" y="360" width="3" height="4" fill="#2ecc8b"/>
<rect x="774" y="361" width="1" height="2" fill="#27a26b"/>
<rect x="778" y="358" width="1" height="2" fill="#ff3848"/>
<rect x="778" y="363" width="1" height="1" fill="#ff3848"/>
<rect x="777" y="360" width="3" height="3" fill="#ff3848"/>
<rect x="778" y="361" width="1" height="1" fill="#df303f"/>
<rect x="782" y="351" width="1" height="4" fill="#2ecc8b"/>
<rect x="782" y="363" width="1" height="1" fill="#2ecc8b"/>
<rect x="781" y="355" width="3" height="8" fill="#2ecc8b"/>
<rect x="782" y="356" width="1" height="6" fill="#27a26b"/>
<rect x="787" y="346" width="1" height="9" fill="#ff3848"/>
<rect x="787" y="361" width="1" height="5" fill="#ff3848"/>
<rect x="786" y="355" width="3" height="6" fill="#ff3848"/>
<rect x="787" y="356" width="1" height="4" fill="#df303f"/>
<rect x="791" y="353" width="1" height="4" fill="#2ecc8b"/>
<rect x="791" y="361" width="1" height="4" fill="#2ecc8b"/>
<rect x="790" y="357" width="3" height="4" fill="#2ecc8b"/>
<rect x="791" y="358" width="1" height="2" fill="#27a26b"/>
<rect x="794" y="357" width="3" height="28" fill="#ff3848"/>
<rect x="795" y="358" width="1" height="26" fill="#df303f"/>
<rect x="800" y="377" width="1" height="6" fill="#ff3848"/>
<rect x="800" y="388" width="1" height="6" fill="#ff3848"/>
<rect x="799" y="383" width="3" height="5" fill="#ff3848"/>
<rect x="800" y="384" width="1" height="3" fill="#df303f"/>
<rect x="803" y="385" width="3" height="4" fill="#ff3848"/>
<rect x="804" y="386" width="1" height="2" fill="#df303f"/>
<rect x="808" y="403" width="1" height="4" fill="#ff3848"/>
<rect x="807" y="386" width="3" height="17" fill="#ff3848"/>
<rect x="808" y="387" width="1" height="15" fill="#df303f"/>
<rect x="813" y="394" width="1" height="7" fill="#ff3848"/>
<rect x="813" y="404" width="1" height="2" fill="#ff3848"/>
<rect x="812" y="401" width="3" height="3" fill="#ff3848"/>
<rect x="813" y="402" width="1" height="1" fill="#df303f"/>
<rect x="817" y="398" width="1" height="4" fill="#ff3848"/>
<rect x="817" y="417" width="1" height="6" fill="#ff3848"/>
<rect x="816" y="402" width="3" height="15" fill="#ff3848"/>
<rect x="817" y="403" width="1" height="13" fill="#df303f"/>
<rect x="821" y="409" width="1" height="6" fill="#ff3848"/>
<rect x="821" y="431" width="1" height="1" fill="#ff3848"/>
<rect x="820" y="415" width="3" height="16" fill="#ff3848"/>
<rect x="821" y="416" width="1" height="14" fill="#df303f"/>
<rect x="825" y="428" width="1" height="1" fill="#ff3848"/>
<rect x="825" y="446" width="1" height="9" fill="#ff3848"/>
<rect x="824" y="429" width="3" height="17" fill="#ff3848"/>
<rect x="825" y="430" width="1" height="15" fill="#df303f"/>
<rect x="829" y="446" width="3" height="4" fill="#2ecc8b"/>
<rect x="830" y="447" width="1" height="2" fill="#27a26b"/>
<rect x="834" y="439" width="1" height="6" fill="#2ecc8b"/>
<rect x="834" y="448" width="1" height="5" fill="#2ecc8b"/>
<rect x="833" y="445" width="3" height="3" fill="#2ecc8b"/>
<rect x="834" y="446" width="1" height="1" fill="#27a26b"/>
<rect x="838" y="430" width="1" height="15" fill="#ff3848"/>
<rect x="838" y="457" width="1" height="2" fill="#ff3848"/>
<rect x="837" y="445" width="3" height="12" fill="#ff3848"/>
<rect x="838" y="446" width="1" height="10" fill="#df303f"/>
<rect x="843" y="452" width="1" height="3" fill="#ff3848"/>
<rect x="843" y="462" width="1" height="8" fill="#ff3848"/>
<rect x="842" y="455" width="3" height="7" fill="#ff3848"/>
<rect x="843" y="456" width="1" height="5" fill="#df303f"/>
<rect x="847" y="448" width="1" height="8" fill="#2ecc8b"/>
<rect x="847" y="463" width="1" height="1" fill="#2ecc8b"/>
<rect x="846" y="456" width="3" height="7" fill="#2ecc8b"/>
<rect x="847" y="457" width="1" height="5" fill="#27a26b"/>
<rect x="851" y="458" width="1" height="3" fill="#2ecc8b"/>
<rect x="850" y="448" width="3" height="10" fill="#2ecc8b"/>
<rect x="851" y="449" width="1" height="8" fill="#27a26b"/>
<rect x="854" y="449" width="3" height="3" fill="#2ecc8b"/>
<rect x="855" y="450" width="1" height="1" fill="#27a26b"/>
<rect x="860" y="451" width="1" height="2" fill="#2ecc8b"/>
<rect x="859" y="437" width="3" height="14" fill="#2ecc8b"/>
<rect x="860" y="438" width="1" height="12" fill="#27a26b"/>
<rect x="864" y="406" width="1" height="5" fill="#2ecc8b"/>
<rect x="863" y="411" width="3" height="27" fill="#2ecc8b"/>
<rect x="864" y="412" width="1" height="25" fill="#27a26b"/>
<rect x="868" y="403" width="1" height="5" fill="#2ecc8b"/>
<rect x="868" y="413" width="1" height="7" fill="#2ecc8b"/>
<rect x="867" y="408" width="3" height="5" fill="#2ecc8b"/>
<rect x="868" y="409" width="1" height="3" fill="#27a26b"/>
<rect x="872" y="408" width="3" height="27" fill="#ff3848"/>
<rect x="873" y="409" width="1" height="25" fill="#df303f"/>
<rect x="877" y="417" width="1" height="6" fill="#2ecc8b"/>
<rect x="877" y="435" width="1" height="2" fill="#2ecc8b"/>
<rect x="876" y="423" width="3" height="12" fill="#2ecc8b"/>
<rect x="877" y="424" width="1" height="10" fill="#27a26b"/>
<rect x="881" y="427" width="1" height="1" fill="#2ecc8b"/>
<rect x="880" y="424" width="3" height="3" fill="#2ecc8b"/>
<rect x="881" y="425" width="1" height="1" fill="#27a26b"/>
<rect x="886" y="412" width="1" height="1" fill="#2ecc8b"/>
<rect x="886" y="427" width="1" height="2" fill="#2ecc8b"/>
<rect x="885" y="413" width="3" height="14" fill="#2ecc8b"/>
<rect x="886" y="414" width="1" height="12" fill="#27a26b"/>
<rect x="890" y="404" width="1" height="9" fill="#ff3848"/>
<rect x="890" y="420" width="1" height="2" fill="#ff3848"/>
<rect x="889" y="413" width="3" height="7" fill="#ff3848"/>
<rect x="890" y="414" width="1" height="5" fill="#df303f"/>
<rect x="894" y="420" width="1" height="5" fill="#2ecc8b"/>
<rect x="893" y="380" width="3" height="40" fill="#2ecc8b"/>
<rect x="894" y="381" width="1" height="38" fill="#27a26b"/>
<rect x="898" y="378" width="1" height="2" fill="#ff3848"/>
<rect x="898" y="386" width="1" height="6" fill="#ff3848"/>
<rect x="897" y="380" width="3" height="6" fill="#ff3848"/>
<rect x="898" y="381" width="1" height="4" fill="#df303f"/>
<rect x="903" y="381" width="1" height="3" fill="#ff3848"/>
<rect x="903" y="398" width="1" height="3" fill="#ff3848"/>
<rect x="902" y="384" width="3" height="14" fill="#ff3848"/>
<rect x="903" y="385" width="1" height="12" fill="#df303f"/>
<rect x="906" y="407" width="3" height="3" fill="#2ecc8b"/>
<rect x="907" y="408" width="1" height="1" fill="#27a26b"/>
<rect x="911" y="404" width="1" height="2" fill="#ff3848"/>
<rect x="911" y="420" width="1" height="3" fill="#ff3848"/>
<rect x="910" y="406" width="3" height="14" fill="#ff3848"/>
<rect x="911" y="407" width="1" height="12" fill="#df303f"/>
<rect x="916" y="425" width="1" height="9" fill="#ff3848"/>
<rect x="915" y="418" width="3" height="7" fill="#ff3848"/>
<rect x="916" y="419" width="1" height="5" fill="#df303f"/>
<rect x="920" y="392" width="1" height="17" fill="#2ecc8b"/>
<rect x="920" y="425" width="1" height="15" fill="#2ecc8b"/>
<rect x="919" y="409" width="3" height="16" fill="#2ecc8b"/>
<rect x="920" y="410" width="1" height="14" fill="#27a26b"/>
<rect x="924" y="397" width="1" height="8" fill="#2ecc8b"/>
<rect x="924" y="411" width="1" height="2" fill="#2ecc8b"/>
<rect x="923" y="405" width="3" height="6" fill="#2ecc8b"/>
<rect x="924" y="406" width="1" height="4" fill="#27a26b"/>
<rect x="929" y="381" width="1" height="24" fill="#ff3848"/>
<rect x="929" y="408" width="1" height="2" fill="#ff3848"/>
<rect x="928" y="405" width="3" height="3" fill="#ff3848"/>
<rect x="929" y="406" width="1" height="1" fill="#df303f"/>
<rect x="932" y="406" width="3" height="3" fill="#ff3848"/>
<rect x="933" y="407" width="1" height="1" fill="#df303f"/>
<rect x="937" y="375" width="1" height="5" fill="#2ecc8b"/>
<rect x="937" y="409" width="1" height="4" fill="#2ecc8b"/>
<rect x="936" y="380" width="3" height="29" fill="#2ecc8b"/>
<rect x="937" y="381" width="1" height="27" fill="#27a26b"/>
<rect x="941" y="367" width="1" height="14" fill="#ff3848"/>
<rect x="941" y="385" width="1" height="12" fill="#ff3848"/>
<rect x="940" y="381" width="3" height="4" fill="#ff3848"/>
<rect x="941" y="382" width="1" height="2" fill="#df303f"/>
<rect x="946" y="368" width="1" height="8" fill="#2ecc8b"/>
<rect x="946" y="385" width="1" height="8" fill="#2ecc8b"/>
<rect x="945" y="376" width="3" height="9" fill="#2ecc8b"/>
<rect x="946" y="377" width="1" height="7" fill="#27a26b"/>
<rect x="950" y="358" width="1" height="4" fill="#2ecc8b"/>
<rect x="950" y="378" width="1" height="4" fill="#2ecc8b"/>
<rect x="949" y="362" width="3" height="16" fill="#2ecc8b"/>
<rect x="950" y="363" width="1" height="14" fill="#27a26b"/>
<rect x="954" y="353" width="1" height="9" fill="#ff3848"/>
<rect x="953" y="362" width="3" height="12" fill="#ff3848"/>
<rect x="954" y="363" width="1" height="10" fill="#df303f"/>
<rect x="958" y="369" width="3" height="3" fill="#2ecc8b"/>
<rect x="959" y="370" width="1" height="1" fill="#27a26b"/>
<rect x="963" y="348" width="1" height="1" fill="#2ecc8b"/>
<rect x="962" y="349" width="3" height="22" fill="#2ecc8b"/>
<rect x="963" y="350" width="1" height="20" fill="#27a26b"/>
<rect x="967" y="346" width="1" height="4" fill="#ff3848"/>
<rect x="967" y="353" width="1" height="6" fill="#ff3848"/>
<rect x="966" y="350" width="3" height="3" fill="#ff3848"/>
<rect x="967" y="351" width="1" height="1" fill="#df303f"/>
<rect x="972" y="336" width="1" height="15" fill="#ff3848"/>
<rect x="972" y="355" width="1" height="9" fill="#ff3848"/>
<rect x="971" y="351" width="3" height="4" fill="#ff3848"/>
<rect x="972" y="352" width="1" height="2" fill="#df303f"/>
<rect x="976" y="316" width="1" height="6" fill="#2ecc8b"/>
<rect x="975" y="322" width="3" height="33" fill="#2ecc8b"/>
<rect x="976" y="323" width="1" height="31" fill="#27a26b"/>
<rect x="980" y="320" width="1" height="1" fill="#ff3848"/>
<rect x="980" y="370" width="1" height="5" fill="#ff3848"/>
<rect x="979" y="321" width="3" height="49" fill="#ff3848"/>
<rect x="980" y="322" width="1" height="47" fill="#df303f"/>
<rect x="983" y="368" width="3" height="3" fill="#2ecc8b"/>
<rect x="984" y="369" width="1" height="1" fill="#27a26b"/>
<rect x="989" y="348" width="1" height="11" fill="#2ecc8b"/>
<rect x="989" y="370" width="1" height="3" fill="#2ecc8b"/>
<rect x="988" y="359" width="3" height="11" fill="#2ecc8b"/>
<rect x="989" y="360" width="1" height="9" fill="#27a26b"/>
<rect x="993" y="341" width="1" height="3" fill="#2ecc8b"/>
<rect x="993" y="360" width="1" height="5" fill="#2ecc8b"/>
<rect x="992" y="344" width="3" height="16" fill="#2ecc8b"/>
<rect x="993" y="345" width="1" height="14" fill="#27a26b"/>
<rect x="997" y="335" width="1" height="9" fill="#ff3848"/>
<rect x="997" y="349" width="1" height="6" fill="#ff3848"/>
<rect x="996" y="344" width="3" height="5" fill="#ff3848"/>
<rect x="997" y="345" width="1" height="3" fill="#df303f"/>
<rect x="1002" y="345" width="1" height="2" fill="#ff3848"/>
<rect x="1001" y="347" width="3" height="23" fill="#ff3848"/>
<rect x="1002" y="348" width="1" height="21" fill="#df303f"/>
<rect x="1006" y="366" width="1" height="2" fill="#ff3848"/>
<rect x="1006" y="381" width="1" height="7" fill="#ff3848"/>
<rect x="1005" y="368" width="3" height="13" fill="#ff3848"/>
<rect x="1006" y="369" width="1" height="11" fill="#df303f"/>
<rect x="1009" y="377" width="3" height="4" fill="#ff3848"/>
<rect x="1010" y="378" width="1" height="2" fill="#df303f"/>
<rect x="1015" y="360" width="1" height="18" fill="#2ecc8b"/>
<rect x="1015" y="381" width="1" height="4" fill="#2ecc8b"/>
<rect x="1014" y="378" width="3" height="3" fill="#2ecc8b"/>
<rect x="1015" y="379" width="1" height="1" fill="#27a26b"/>
<rect x="1019" y="376" width="1" height="2" fill="#ff3848"/>
<rect x="1019" y="394" width="1" height="8" fill="#ff3848"/>
<rect x="1018" y="378" width="3" height="16" fill="#ff3848"/>
<rect x="1019" y="379" width="1" height="14" fill="#df303f"/>
<rect x="1023" y="383" width="1" height="9" fill="#ff3848"/>
<rect x="1023" y="401" width="1" height="6" fill="#ff3848"/>
<rect x="1022" y="392" width="3" height="9" fill="#ff3848"/>
<rect x="1023" y="393" width="1" height="7" fill="#df303f"/>
<rect x="1027" y="378" width="1" height="4" fill="#2ecc8b"/>
<rect x="1027" y="401" width="1" height="6" fill="#2ecc8b"/>
<rect x="1026" y="382" width="3" height="19" fill="#2ecc8b"/>
<rect x="1027" y="383" width="1" height="17" fill="#27a26b"/>
<rect x="1032" y="358" width="1" height="1" fill="#2ecc8b"/>
<rect x="1032" y="384" width="1" height="3" fill="#2ecc8b"/>
<rect x="1031" y="359" width="3" height="25" fill="#2ecc8b"/>
<rect x="1032" y="360" width="1" height="23" fill="#27a26b"/>
<rect x="1036" y="360" width="1" height="2" fill="#ff3848"/>
<rect x="1035" y="357" width="3" height="3" fill="#ff3848"/>
<rect x="1036" y="358" width="1" height="1" fill="#df303f"/>
<rect x="1040" y="356" width="1" height="2" fill="#ff3848"/>
<rect x="1040" y="367" width="1" height="14" fill="#ff3848"/>
<rect x="1039" y="358" width="3" height="9" fill="#ff3848"/>
<rect x="1040" y="359" width="1" height="7" fill="#df303f"/>
<rect x="1045" y="352" width="1" height="1" fill="#2ecc8b"/>
<rect x="1045" y="367" width="1" height="13" fill="#2ecc8b"/>
<rect x="1044" y="353" width="3" height="14" fill="#2ecc8b"/>
<rect x="1045" y="354" width="1" height="12" fill="#27a26b"/>
<rect x="1049" y="336" width="1" height="3" fill="#2ecc8b"/>
<rect x="1048" y="339" width="3" height="16" fill="#2ecc8b"/>
<rect x="1049" y="340" width="1" height="14" fill="#27a26b"/>
<rect x="1053" y="328" width="1" height="4" fill="#2ecc8b"/>
<rect x="1053" y="341" width="1" height="2" fill="#2ecc8b"/>
<rect x="1052" y="332" width="3" height="9" fill="#2ecc8b"/>
<rect x="1053" y="333" width="1" height="7" fill="#27a26b"/>
<rect x="1057" y="326" width="1" height="6" fill="#ff3848"/>
<rect x="1057" y="352" width="1" height="1" fill="#ff3848"/>
<rect x="1056" y="332" width="3" height="20" fill="#ff3848"/>
<rect x="1057" y="333" width="1" height="18" fill="#df303f"/>
<rect x="1062" y="362" width="1" height="1" fill="#2ecc8b"/>
<rect x="1061" y="363" width="3" height="6" fill="#2ecc8b"/>
<rect x="1062" y="364" width="1" height="4" fill="#27a26b"/>
<rect x="1066" y="345" width="1" height="5" fill="#2ecc8b"/>
<rect x="1065" y="350" width="3" height="15" fill="#2ecc8b"/>
<rect x="1066" y="351" width="1" height="13" fill="#27a26b"/>
<rect x="1070" y="329" width="1" height="16" fill="#2ecc8b"/>
<rect x="1070" y="352" width="1" height="2" fill="#2ecc8b"/>
<rect x="1069" y="345" width="3" height="7" fill="#2ecc8b"/>
<rect x="1070" y="346" width="1" height="5" fill="#27a26b"/>
<rect x="1075" y="341" width="1" height="3" fill="#ff3848"/>
<rect x="1075" y="364" width="1" height="2" fill="#ff3848"/>
<rect x="1074" y="344" width="3" height="20" fill="#ff3848"/>
<rect x="1075" y="345" width="1" height="18" fill="#df303f"/>
<rect x="1079" y="356" width="1" height="6" fill="#ff3848"/>
<rect x="1079" y="384" width="1" height="1" fill="#ff3848"/>
<rect x="1078" y="362" width="3" height="22" fill="#ff3848"/>
<rect x="1079" y="363" width="1" height="20" fill="#df303f"/>
<rect x="1083" y="363" width="1" height="9" fill="#2ecc8b"/>
<rect x="1083" y="384" width="1" height="1" fill="#2ecc8b"/>
<rect x="1082" y="372" width="3" height="12" fill="#2ecc8b"/>
<rect x="1083" y="373" width="1" height="10" fill="#27a26b"/>
<rect x="1088" y="373" width="1" height="2" fill="#ff3848"/>
<rect x="1087" y="369" width="3" height="4" fill="#ff3848"/>
<rect x="1088" y="370" width="1" height="2" fill="#df303f"/>
<rect x="1092" y="366" width="1" height="5" fill="#ff3848"/>
<rect x="1092" y="398" width="1" height="1" fill="#ff3848"/>
<rect x="1091" y="371" width="3" height="27" fill="#ff3848"/>
<rect x="1092" y="372" width="1" height="25" fill="#df303f"/>
<rect x="1096" y="377" width="1" height="15" fill="#2ecc8b"/>
<rect x="1096" y="398" width="1" height="5" fill="#2ecc8b"/>
<rect x="1095" y="392" width="3" height="6" fill="#2ecc8b"/>
<rect x="1096" y="393" width="1" height="4" fill="#27a26b"/>
<rect x="1100" y="390" width="1" height="2" fill="#ff3848"/>
<rect x="1100" y="418" width="1" height="2" fill="#ff3848"/>
<rect x="1099" y="392" width="3" height="26" fill="#ff3848"/>
<rect x="1100" y="393" width="1" height="24" fill="#df303f"/>
<rect x="1105" y="408" width="1" height="7" fill="#ff3848"/>
<rect x="1105" y="433" width="1" height="4" fill="#ff3848"/>
<rect x="1104" y="415" width="3" height="18" fill="#ff3848"/>
<rect x="1105" y="416" width="1" height="16" fill="#df303f"/>
<rect x="1109" y="426" width="1" height="2" fill="#2ecc8b"/>
<rect x="1109" y="433" width="1" height="9" fill="#2ecc8b"/>
<rect x="1108" y="428" width="3" height="5" fill="#2ecc8b"/>
<rect x="1109" y="429" width="1" height="3" fill="#27a26b"/>
<rect x="1112" y="427" width="3" height="5" fill="#2ecc8b"/>
<rect x="1113" y="428" width="1" height="3" fill="#27a26b"/>
<rect x="1118" y="424" width="1" height="3" fill="#ff3848"/>
<rect x="1117" y="427" width="3" height="11" fill="#ff3848"/>
<rect x="1118" y="428" width="1" height="9" fill="#df303f"/>
<rect x="1122" y="433" width="1" height="3" fill="#ff3848"/>
<rect x="1122" y="460" width="1" height="2" fill="#ff3848"/>
<rect x="1121" y="436" width="3" height="24" fill="#ff3848"/>
<rect x="1122" y="437" width="1" height="22" fill="#df303f"/>
<rect x="1126" y="429" width="1" height="13" fill="#2ecc8b"/>
<rect x="1126" y="460" width="1" height="1" fill="#2ecc8b"/>
<rect x="1125" y="442" width="3" height="18" fill="#2ecc8b"/>
<rect x="1126" y="443" width="1" height="16" fill="#27a26b"/>
<rect x="1131" y="380" width="1" height="8" fill="#2ecc8b"/>
<rect x="1131" y="444" width="1" height="1" fill="#2ecc8b"/>
<rect x="1130" y="388" width="3" height="56" fill="#2ecc8b"/>
<rect x="1131" y="389" width="1" height="54" fill="#27a26b"/>
<rect x="1135" y="378" width="1" height="10" fill="#ff3848"/>
<rect x="1135" y="398" width="1" height="2" fill="#ff3848"/>
<rect x="1134" y="388" width="3" height="10" fill="#ff3848"/>
<rect x="1135" y="389" width="1" height="8" fill="#df303f"/>
<rect x="1139" y="387" width="1" height="1" fill="#ff3848"/>
<rect x="1138" y="382" width="3" height="5" fill="#ff3848"/>
<rect x="1139" y="383" width="1" height="3" fill="#df303f"/>
<rect x="1143" y="372" width="1" height="1" fill="#2ecc8b"/>
<rect x="1143" y="387" width="1" height="10" fill="#2ecc8b"/>
<rect x="1142" y="373" width="3" height="14" fill="#2ecc8b"/>
<rect x="1143" y="374" width="1" height="12" fill="#27a26b"/>
<rect x="1148" y="362" width="1" height="3" fill="#2ecc8b"/>
<rect x="1148" y="375" width="1" height="8" fill="#2ecc8b"/>
<rect x="1147" y="365" width="3" height="10" fill="#2ecc8b"/>
<rect x="1148" y="366" width="1" height="8" fill="#27a26b"/>
<rect x="1152" y="348" width="1" height="8" fill="#2ecc8b"/>
<rect x="1152" y="367" width="1" height="3" fill="#2ecc8b"/>
<rect x="1151" y="356" width="3" height="11" fill="#2ecc8b"/>
<rect x="1152" y="357" width="1" height="9" fill="#27a26b"/>
<rect x="1156" y="352" width="1" height="4" fill="#ff3848"/>
<rect x="1156" y="373" width="1" height="4" fill="#ff3848"/>
<rect x="1155" y="356" width="3" height="17" fill="#ff3848"/>
<rect x="1156" y="357" width="1" height="15" fill="#df303f"/>
<rect x="1161" y="396" width="1" height="2" fill="#ff3848"/>
<rect x="1160" y="371" width="3" height="25" fill="#ff3848"/>
<rect x="1161" y="372" width="1" height="23" fill="#df303f"/>
<rect x="1165" y="404" width="1" height="1" fill="#2ecc8b"/>
<rect x="1164" y="405" width="3" height="5" fill="#2ecc8b"/>
<rect x="1165" y="406" width="1" height="3" fill="#27a26b"/>
<rect x="1169" y="401" width="1" height="4" fill="#ff3848"/>
<rect x="1169" y="425" width="1" height="5" fill="#ff3848"/>
<rect x="1168" y="405" width="3" height="20" fill="#ff3848"/>
<rect x="1169" y="406" width="1" height="18" fill="#df303f"/>
<rect x="1174" y="377" width="1" height="2" fill="#2ecc8b"/>
<rect x="1173" y="379" width="3" height="46" fill="#2ecc8b"/>
<rect x="1174" y="380" width="1" height="44" fill="#27a26b"/>
<rect x="1178" y="370" width="1" height="9" fill="#ff3848"/>
<rect x="1178" y="392" width="1" height="24" fill="#ff3848"/>
<rect x="1177" y="379" width="3" height="13" fill="#ff3848"/>
<rect x="1178" y="380" width="1" height="11" fill="#df303f"/>
<rect x="1182" y="381" width="1" height="9" fill="#ff3848"/>
<rect x="1182" y="447" width="1" height="8" fill="#ff3848"/>
<rect x="1181" y="390" width="3" height="57" fill="#ff3848"/>
<rect x="1182" y="391" width="1" height="55" fill="#df303f"/>
<rect x="1186" y="418" width="1" height="11" fill="#2ecc8b"/>
<rect x="1185" y="429" width="3" height="17" fill="#2ecc8b"/>
<rect x="1186" y="430" width="1" height="15" fill="#27a26b"/>
<rect x="1190" y="424" width="3" height="6" fill="#ff3848"/>
<rect x="1191" y="425" width="1" height="4" fill="#df303f"/>
<rect x="1195" y="416" width="1" height="5" fill="#2ecc8b"/>
<rect x="1195" y="430" width="1" height="8" fill="#2ecc8b"/>
<rect x="1194" y="421" width="3" height="9" fill="#2ecc8b"/>
<rect x="1195" y="422" width="1" height="7" fill="#27a26b"/>
<rect x="1199" y="416" width="1" height="5" fill="#ff3848"/>
<rect x="1199" y="441" width="1" height="1" fill="#ff3848"/>
<rect x="1198" y="421" width="3" height="20" fill="#ff3848"/>
<rect x="1199" y="422" width="1" height="18" fill="#df303f"/>
<rect x="1204" y="432" width="1" height="7" fill="#ff3848"/>
<rect x="1204" y="444" width="1" height="1" fill="#ff3848"/>
<rect x="1203" y="439" width="3" height="5" fill="#ff3848"/>
<rect x="1204" y="440" width="1" height="3" fill="#df303f"/>
<rect x="1208" y="406" width="1" height="11" fill="#2ecc8b"/>
<rect x="1207" y="417" width="3" height="27" fill="#2ecc8b"/>
<rect x="1208" y="418" width="1" height="25" fill="#27a26b"/>
<rect x="1212" y="416" width="1" height="1" fill="#ff3848"/>
<rect x="1212" y="435" width="1" height="2" fill="#ff3848"/>
<rect x="1211" y="417" width="3" height="18" fill="#ff3848"/>
<rect x="1212" y="418" width="1" height="16" fill="#df303f"/>
<rect x="1216" y="429" width="3" height="4" fill="#ff3848"/>
<rect x="1217" y="430" width="1" height="2" fill="#df303f"/>
<rect x="1221" y="421" width="1" height="10" fill="#ff3848"/>
<rect x="1221" y="435" width="1" height="2" fill="#ff3848"/>
<rect x="1220" y="431" width="3" height="4" fill="#ff3848"/>
<rect x="1221" y="432" width="1" height="2" fill="#df303f"/>
<rect x="1225" y="432" width="1" height="1" fill="#ff3848"/>
<rect x="1225" y="452" width="1" height="3" fill="#ff3848"/>
<rect x="1224" y="433" width="3" height="19" fill="#ff3848"/>
<rect x="1225" y="434" width="1" height="17" fill="#df303f"/>
<rect x="1229" y="425" width="1" height="5" fill="#2ecc8b"/>
<rect x="1229" y="452" width="1" height="1" fill="#2ecc8b"/>
<rect x="1228" y="430" width="3" height="22" fill="#2ecc8b"/>
<rect x="1229" y="431" width="1" height="20" fill="#27a26b"/>
<rect x="1234" y="424" width="1" height="6" fill="#ff3848"/>
<rect x="1234" y="442" width="1" height="5" fill="#ff3848"/>
<rect x="1233" y="430" width="3" height="12" fill="#ff3848"/>
<rect x="1234" y="431" width="1" height="10" fill="#df303f"/>
<rect x="1238" y="434" width="1" height="6" fill="#ff3848"/>
<rect x="1238" y="451" width="1" height="1" fill="#ff3848"/>
<rect x="1237" y="440" width="3" height="11" fill="#ff3848"/>
<rect x="1238" y="441" width="1" height="9" fill="#df303f"/>
<rect x="1241" y="444" width="3" height="9" fill="#ff3848"/>
<rect x="1242" y="445" width="1" height="7" fill="#df303f"/>
<rect x="1247" y="430" width="1" height="21" fill="#ff3848"/>
<rect x="1247" y="456" width="1" height="5" fill="#ff3848"/>
<rect x="1246" y="451" width="3" height="5" fill="#ff3848"/>
<rect x="1247" y="452" width="1" height="3" fill="#df303f"/>
<rect x="1251" y="427" width="1" height="27" fill="#ff3848"/>
<rect x="1251" y="458" width="1" height="13" fill="#ff3848"/>
<rect x="1250" y="454" width="3" height="4" fill="#ff3848"/>
<rect x="1251" y="455" width="1" height="2" fill="#df303f"/>
<rect x="1255" y="437" width="1" height="14" fill="#2ecc8b"/>
<rect x="1255" y="458" width="1" height="9" fill="#2ecc8b"/>
<rect x="1254" y="451" width="3" height="7" fill="#2ecc8b"/>
<rect x="1255" y="452" width="1" height="5" fill="#27a26b"/>
<rect x="1259" y="434" width="1" height="7" fill="#2ecc8b"/>
<rect x="1259" y="454" width="1" height="7" fill="#2ecc8b"/>
<rect x="1258" y="441" width="3" height="13" fill="#2ecc8b"/>
<rect x="1259" y="442" width="1" height="11" fill="#27a26b"/>
<rect x="1264" y="439" width="1" height="1" fill="#ff3848"/>
<rect x="1264" y="451" width="1" height="7" fill="#ff3848"/>
<rect x="1263" y="440" width="3" height="11" fill="#ff3848"/>
<rect x="1264" y="441" width="1" height="9" fill="#df303f"/>
<rect x="1267" y="456" width="3" height="4" fill="#2ecc8b"/>
<rect x="1268" y="457" width="1" height="2" fill="#27a26b"/>
<rect x="1272" y="447" width="1" height="9" fill="#ff3848"/>
<rect x="1272" y="495" width="1" height="12" fill="#ff3848"/>
<rect x="1271" y="456" width="3" height="39" fill="#ff3848"/>
<rect x="1272" y="457" width="1" height="37" fill="#df303f"/>
<rect x="1277" y="476" width="1" height="17" fill="#ff3848"/>
<rect x="1277" y="513" width="1" height="1" fill="#ff3848"/>
<rect x="1276" y="493" width="3" height="20" fill="#ff3848"/>
<rect x="1277" y="494" width="1" height="18" fill="#df303f"/>
<rect x="1281" y="468" width="1" height="8" fill="#2ecc8b"/>
<rect x="1281" y="513" width="1" height="2" fill="#2ecc8b"/>
<rect x="1280" y="476" width="3" height="37" fill="#2ecc8b"/>
<rect x="1281" y="477" width="1" height="35" fill="#27a26b"/>
<rect x="1285" y="464" width="1" height="7" fill="#2ecc8b"/>
<rect x="1285" y="478" width="1" height="4" fill="#2ecc8b"/>
<rect x="1284" y="471" width="3" height="7" fill="#2ecc8b"/>
<rect x="1285" y="472" width="1" height="5" fill="#27a26b"/>
<rect x="1290" y="470" width="1" height="1" fill="#ff3848"/>
<rect x="1290" y="490" width="1" height="12" fill="#ff3848"/>
<rect x="1289" y="471" width="3" height="19" fill="#ff3848"/>
<rect x="1290" y="472" width="1" height="17" fill="#df303f"/>
<rect x="1294" y="490" width="1" height="2" fill="#ff3848"/>
<rect x="1293" y="484" width="3" height="6" fill="#ff3848"/>
<rect x="1294" y="485" width="1" height="4" fill="#df303f"/>
<rect x="1298" y="473" width="1" height="8" fill="#2ecc8b"/>
<rect x="1298" y="490" width="1" height="1" fill="#2ecc8b"/>
<rect x="1297" y="481" width="3" height="9" fill="#2ecc8b"/>
<rect x="1298" y="482" width="1" height="7" fill="#27a26b"/>
<rect x="1302" y="459" width="1" height="14" fill="#2ecc8b"/>
<rect x="1301" y="473" width="3" height="10" fill="#2ecc8b"/>
<rect x="1302" y="474" width="1" height="8" fill="#27a26b"/>
<rect x="1307" y="466" width="1" height="7" fill="#ff3848"/>
<rect x="1307" y="482" width="1" height="1" fill="#ff3848"/>
<rect x="1306" y="473" width="3" height="9" fill="#ff3848"/>
<rect x="1307" y="474" width="1" height="7" fill="#df303f"/>
<rect x="1311" y="459" width="1" height="11" fill="#2ecc8b"/>
<rect x="1310" y="470" width="3" height="12" fill="#2ecc8b"/>
<rect x="1311" y="471" width="1" height="10" fill="#27a26b"/>
<rect x="1315" y="461" width="1" height="9" fill="#ff3848"/>
<rect x="1315" y="480" width="1" height="1" fill="#ff3848"/>
<rect x="1314" y="470" width="3" height="10" fill="#ff3848"/>
<rect x="1315" y="471" width="1" height="8" fill="#df303f"/>
<rect x="1319" y="473" width="3" height="3" fill="#ff3848"/>
<rect x="1320" y="474" width="1" height="1" fill="#df303f"/>
<rect x="1324" y="451" width="1" height="5" fill="#2ecc8b"/>
<rect x="1324" y="476" width="1" height="1" fill="#2ecc8b"/>
<rect x="1323" y="456" width="3" height="20" fill="#2ecc8b"/>
<rect x="1324" y="457" width="1" height="18" fill="#27a26b"/>
<rect x="1328" y="464" width="1" height="1" fill="#2ecc8b"/>
<rect x="1327" y="465" width="3" height="3" fill="#2ecc8b"/>
<rect x="1328" y="466" width="1" height="1" fill="#27a26b"/>
<rect x="1333" y="456" width="1" height="9" fill="#ff3848"/>
<rect x="1333" y="476" width="1" height="2" fill="#ff3848"/>
<rect x="1332" y="465" width="3" height="11" fill="#ff3848"/>
<rect x="1333" y="466" width="1" height="9" fill="#df303f"/>
<rect x="1337" y="467" width="1" height="6" fill="#2ecc8b"/>
<rect x="1337" y="476" width="1" height="5" fill="#2ecc8b"/>
<rect x="1336" y="473" width="3" height="3" fill="#2ecc8b"/>
<rect x="1337" y="474" width="1" height="1" fill="#27a26b"/>
<rect x="1341" y="459" width="1" height="1" fill="#2ecc8b"/>
<rect x="1341" y="475" width="1" height="1" fill="#2ecc8b"/>
<rect x="1340" y="460" width="3" height="15" fill="#2ecc8b"/>
<rect x="1341" y="461" width="1" height="13" fill="#27a26b"/>
<rect x="1344" y="459" width="3" height="4" fill="#ff3848"/>
<rect x="1345" y="460" width="1" height="2" fill="#df303f"/>
<rect x="1350" y="433" width="1" height="16" fill="#2ecc8b"/>
<rect x="1350" y="462" width="1" height="3" fill="#2ecc8b"/>
<rect x="1349" y="449" width="3" height="13" fill="#2ecc8b"/>
<rect x="1350" y="450" width="1" height="11" fill="#27a26b"/>
<rect x="1354" y="449" width="1" height="1" fill="#2ecc8b"/>
<rect x="1353" y="450" width="3" height="3" fill="#2ecc8b"/>
<rect x="1354" y="451" width="1" height="1" fill="#27a26b"/>
<rect x="1358" y="443" width="1" height="7" fill="#ff3848"/>
<rect x="1358" y="517" width="1" height="15" fill="#ff3848"/>
<rect x="1357" y="450" width="3" height="67" fill="#ff3848"/>
<rect x="1358" y="451" width="1" height="65" fill="#df303f"/>
<rect x="1363" y="473" width="1" height="3" fill="#2ecc8b"/>
<rect x="1362" y="476" width="3" height="42" fill="#2ecc8b"/>
<rect x="1363" y="477" width="1" height="40" fill="#27a26b"/>
<rect x="1367" y="478" width="1" height="3" fill="#2ecc8b"/>
<rect x="1366" y="450" width="3" height="28" fill="#2ecc8b"/>
<rect x="1367" y="451" width="1" height="26" fill="#27a26b"/>
<rect x="1370" y="454" width="3" height="3" fill="#2ecc8b"/>
<rect x="1371" y="455" width="1" height="1" fill="#27a26b"/>
<rect x="1375" y="439" width="3" height="17" fill="#2ecc8b"/>
<rect x="1376" y="440" width="1" height="15" fill="#27a26b"/>
<rect x="1380" y="437" width="1" height="2" fill="#ff3848"/>
<rect x="1380" y="458" width="1" height="1" fill="#ff3848"/>
<rect x="1379" y="439" width="3" height="19" fill="#ff3848"/>
<rect x="1380" y="440" width="1" height="17" fill="#df303f"/>
<rect x="1383" y="436" width="3" height="22" fill="#2ecc8b"/>
<rect x="1384" y="437" width="1" height="20" fill="#27a26b"/>
<rect x="1388" y="449" width="1" height="5" fill="#ff3848"/>
<rect x="1387" y="436" width="3" height="13" fill="#ff3848"/>
<rect x="1388" y="437" width="1" height="11" fill="#df303f"/>
<rect x="1393" y="420" width="1" height="4" fill="#2ecc8b"/>
<rect x="1393" y="449" width="1" height="9" fill="#2ecc8b"/>
<rect x="1392" y="424" width="3" height="25" fill="#2ecc8b"/>
<rect x="1393" y="425" width="1" height="23" fill="#27a26b"/>
<rect x="1396" y="421" width="3" height="4" fill="#2ecc8b"/>
<rect x="1397" y="422" width="1" height="2" fill="#27a26b"/>
<rect x="1401" y="405" width="1" height="15" fill="#2ecc8b"/>
<rect x="1401" y="423" width="1" height="9" fill="#2ecc8b"/>
<rect x="1400" y="420" width="3" height="3" fill="#2ecc8b"/>
<rect x="1401" y="421" width="1" height="1" fill="#27a26b"/>
<rect x="1406" y="409" width="1" height="11" fill="#ff3848"/>
<rect x="1406" y="423" width="1" height="45" fill="#ff3848"/>
<rect x="1405" y="420" width="3" height="3" fill="#ff3848"/>
<rect x="1406" y="421" width="1" height="1" fill="#df303f"/>
<rect x="1410" y="413" width="1" height="4" fill="#2ecc8b"/>
<rect x="1410" y="423" width="1" height="7" fill="#2ecc8b"/>
<rect x="1409" y="417" width="3" height="6" fill="#2ecc8b"/>
<rect x="1410" y="418" width="1" height="4" fill="#27a26b"/>
<rect x="1414" y="388" width="1" height="3" fill="#2ecc8b"/>
<rect x="1414" y="419" width="1" height="10" fill="#2ecc8b"/>
<rect x="1413" y="391" width="3" height="28" fill="#2ecc8b"/>
<rect x="1414" y="392" width="1" height="26" fill="#27a26b"/>
<rect x="1419" y="422" width="1" height="1" fill="#ff3848"/>
<rect x="1418" y="390" width="3" height="32" fill="#ff3848"/>
<rect x="1419" y="391" width="1" height="30" fill="#df303f"/>
<rect x="1422" y="417" width="3" height="4" fill="#ff3848"/>
<rect x="1423" y="418" width="1" height="2" fill="#df303f"/>
<rect x="1427" y="410" width="1" height="2" fill="#2ecc8b"/>
<rect x="1427" y="421" width="1" height="8" fill="#2ecc8b"/>
<rect x="1426" y="412" width="3" height="9" fill="#2ecc8b"/>
<rect x="1427" y="413" width="1" height="7" fill="#27a26b"/>
<rect x="1431" y="394" width="1" height="3" fill="#2ecc8b"/>
<rect x="1431" y="414" width="1" height="9" fill="#2ecc8b"/>
<rect x="1430" y="397" width="3" height="17" fill="#2ecc8b"/>
<rect x="1431" y="398" width="1" height="15" fill="#27a26b"/>
<rect x="1436" y="399" width="1" height="3" fill="#2ecc8b"/>
<rect x="1435" y="368" width="3" height="31" fill="#2ecc8b"/>
<rect x="1436" y="369" width="1" height="29" fill="#27a26b"/>
<rect x="1440" y="365" width="1" height="3" fill="#ff3848"/>
<rect x="1440" y="373" width="1" height="12" fill="#ff3848"/>
<rect x="1439" y="368" width="3" height="5" fill="#ff3848"/>
<rect x="1440" y="369" width="1" height="3" fill="#df303f"/>
<rect x="1443" y="336" width="3" height="37" fill="#2ecc8b"/>
<rect x="1444" y="337" width="1" height="35" fill="#27a26b"/>
<rect x="1448" y="337" width="3" height="6" fill="#2ecc8b"/>
<rect x="1449" y="338" width="1" height="4" fill="#27a26b"/>
<rect x="1453" y="353" width="1" height="2" fill="#ff3848"/>
<rect x="1452" y="337" width="3" height="16" fill="#ff3848"/>
<rect x="1453" y="338" width="1" height="14" fill="#df303f"/>
<rect x="1457" y="340" width="1" height="5" fill="#2ecc8b"/>
<rect x="1457" y="353" width="1" height="4" fill="#2ecc8b"/>
<rect x="1456" y="345" width="3" height="8" fill="#2ecc8b"/>
<rect x="1457" y="346" width="1" height="6" fill="#27a26b"/>
</g>
<g stroke="rgba(232,216,50,0.7)" stroke-width="1.9" stroke-linecap="round" fill="none">
<line x1="5.5" y1="355.75" x2="9.5" y2="354.70"/>
<line x1="9.5" y1="354.70" x2="13.5" y2="353.65"/>
<line x1="13.5" y1="353.65" x2="17.5" y2="352.63"/>
<line x1="17.5" y1="352.63" x2="22.5" y2="351.36"/>
<line x1="22.5" y1="351.36" x2="26.5" y2="350.36"/>
<line x1="26.5" y1="350.36" x2="30.5" y2="349.38"/>
<line x1="30.5" y1="349.38" x2="35.5" y2="348.22"/>
<line x1="35.5" y1="348.22" x2="39.5" y2="347.35"/>
<line x1="39.5" y1="347.35" x2="43.5" y2="346.50"/>
<line x1="43.5" y1="346.50" x2="48.5" y2="345.40"/>
<line x1="48.5" y1="345.40" x2="52.5" y2="344.48"/>
<line x1="52.5" y1="344.48" x2="56.5" y2="343.47"/>
<line x1="56.5" y1="343.47" x2="60.5" y2="342.35"/>
<line x1="60.5" y1="342.35" x2="65.5" y2="340.77"/>
<line x1="65.5" y1="340.77" x2="69.5" y2="339.36"/>
<line x1="69.5" y1="339.36" x2="73.5" y2="337.85"/>
<line x1="73.5" y1="337.85" x2="78.5" y2="335.84"/>
<line x1="78.5" y1="335.84" x2="82.5" y2="334.16"/>
<line x1="82.5" y1="334.16" x2="86.5" y2="332.44"/>
<line x1="86.5" y1="332.44" x2="90.5" y2="330.62"/>
<line x1="90.5" y1="330.62" x2="95.5" y2="328.07"/>
<line x1="95.5" y1="328.07" x2="99.5" y2="325.87"/>
<line x1="99.5" y1="325.87" x2="103.5" y2="323.59"/>
<line x1="103.5" y1="323.59" x2="108.5" y2="320.72"/>
<line x1="108.5" y1="320.72" x2="112.5" y2="318.48"/>
<line x1="112.5" y1="318.48" x2="116.5" y2="316.36"/>
<line x1="116.5" y1="316.36" x2="121.5" y2="313.96"/>
<line x1="121.5" y1="313.96" x2="125.5" y2="312.31"/>
<line x1="125.5" y1="312.31" x2="129.5" y2="310.84"/>
<line x1="129.5" y1="310.84" x2="133.5" y2="309.48"/>
<line x1="133.5" y1="309.48" x2="138.5" y2="307.90"/>
<line x1="138.5" y1="307.90" x2="142.5" y2="306.72"/>
<line x1="142.5" y1="306.72" x2="146.5" y2="305.59"/>
<line x1="146.5" y1="305.59" x2="151.5" y2="304.22"/>
<line x1="151.5" y1="304.22" x2="155.5" y2="303.14"/>
<line x1="155.5" y1="303.14" x2="159.5" y2="302.05"/>
<line x1="159.5" y1="302.05" x2="164.5" y2="300.67"/>
<line x1="164.5" y1="300.67" x2="168.5" y2="299.51"/>
<line x1="168.5" y1="299.51" x2="172.5" y2="298.30"/>
<line x1="172.5" y1="298.30" x2="176.5" y2="297.00"/>
<line x1="176.5" y1="297.00" x2="181.5" y2="295.26"/>
<line x1="181.5" y1="295.26" x2="185.5" y2="293.78"/>
<line x1="185.5" y1="293.78" x2="189.5" y2="292.26"/>
<line x1="189.5" y1="292.26" x2="194.5" y2="290.34"/>
<line x1="194.5" y1="290.34" x2="198.5" y2="288.81"/>
<line x1="198.5" y1="288.81" x2="202.5" y2="287.32"/>
<line x1="202.5" y1="287.32" x2="207.5" y2="285.55"/>
<line x1="207.5" y1="285.55" x2="211.5" y2="284.24"/>
<line x1="211.5" y1="284.24" x2="215.5" y2="283.04"/>
<line x1="215.5" y1="283.04" x2="219.5" y2="281.99"/>
<line x1="219.5" y1="281.99" x2="224.5" y2="280.79"/>
<line x1="224.5" y1="280.79" x2="228.5" y2="279.92"/>
<line x1="228.5" y1="279.92" x2="232.5" y2="279.10"/>
<line x1="232.5" y1="279.10" x2="237.5" y2="278.14"/>
<line x1="237.5" y1="278.14" x2="241.5" y2="277.40"/>
<line x1="241.5" y1="277.40" x2="245.5" y2="276.68"/>
<line x1="245.5" y1="276.68" x2="249.5" y2="275.96"/>
<line x1="249.5" y1="275.96" x2="254.5" y2="275.05"/>
<line x1="254.5" y1="275.05" x2="258.5" y2="274.29"/>
<line x1="258.5" y1="274.29" x2="262.5" y2="273.49"/>
<line x1="262.5" y1="273.49" x2="267.5" y2="272.42"/>
<line x1="267.5" y1="272.42" x2="271.5" y2="271.49"/>
<line x1="271.5" y1="271.49" x2="275.5" y2="270.49"/>
<line x1="275.5" y1="270.49" x2="280.5" y2="269.13"/>
<line x1="280.5" y1="269.13" x2="284.5" y2="267.97"/>
<line x1="284.5" y1="267.97" x2="288.5" y2="266.77"/>
<line x1="288.5" y1="266.77" x2="292.5" y2="265.52"/>
<line x1="292.5" y1="265.52" x2="297.5" y2="263.91"/>
<line x1="297.5" y1="263.91" x2="301.5" y2="262.60"/>
<line x1="301.5" y1="262.60" x2="305.5" y2="261.28"/>
<line x1="305.5" y1="261.28" x2="310.5" y2="259.63"/>
<line x1="310.5" y1="259.63" x2="314.5" y2="258.32"/>
<line x1="314.5" y1="258.32" x2="318.5" y2="257.03"/>
<line x1="318.5" y1="257.03" x2="323.5" y2="255.46"/>
<line x1="323.5" y1="255.46" x2="327.5" y2="254.24"/>
<line x1="327.5" y1="254.24" x2="331.5" y2="253.04"/>
<line x1="331.5" y1="253.04" x2="335.5" y2="251.85"/>
<line x1="335.5" y1="251.85" x2="340.5" y2="250.37"/>
<line x1="340.5" y1="250.37" x2="344.5" y2="249.20"/>
<line x1="344.5" y1="249.20" x2="348.5" y2="248.02"/>
<line x1="348.5" y1="248.02" x2="353.5" y2="246.55"/>
<line x1="353.5" y1="246.55" x2="357.5" y2="245.36"/>
<line x1="357.5" y1="245.36" x2="361.5" y2="244.16"/>
<line x1="361.5" y1="244.16" x2="366.5" y2="242.65"/>
<line x1="366.5" y1="242.65" x2="370.5" y2="241.41"/>
<line x1="370.5" y1="241.41" x2="374.5" y2="240.16"/>
<line x1="374.5" y1="240.16" x2="378.5" y2="238.85"/>
<line x1="378.5" y1="238.85" x2="383.5" y2="237.09"/>
<line x1="383.5" y1="237.09" x2="387.5" y2="235.65"/>
<line x1="387.5" y1="235.65" x2="391.5" y2="234.21"/>
<line x1="391.5" y1="234.21" x2="396.5" y2="232.49"/>
<line x1="396.5" y1="232.49" x2="400.5" y2="231.24"/>
<line x1="400.5" y1="231.24" x2="404.5" y2="230.13"/>
<line x1="404.5" y1="230.13" x2="409.5" y2="228.94"/>
<line x1="409.5" y1="228.94" x2="413.5" y2="228.08"/>
<line x1="413.5" y1="228.08" x2="417.5" y2="227.30"/>
<line x1="417.5" y1="227.30" x2="421.5" y2="226.56"/>
<line x1="421.5" y1="226.56" x2="426.5" y2="225.69"/>
<line x1="426.5" y1="225.69" x2="430.5" y2="225.02"/>
<line x1="430.5" y1="225.02" x2="434.5" y2="224.47"/>
<line x1="434.5" y1="224.47" x2="439.5" y2="223.93"/>
<line x1="439.5" y1="223.93" x2="443.5" y2="223.63"/>
<line x1="443.5" y1="223.63" x2="447.5" y2="223.62"/>
<line x1="447.5" y1="223.62" x2="451.5" y2="223.72"/>
<line x1="451.5" y1="223.72" x2="456.5" y2="223.92"/>
<line x1="456.5" y1="223.92" x2="460.5" y2="224.12"/>
<line x1="460.5" y1="224.12" x2="464.5" y2="224.37"/>
<line x1="464.5" y1="224.37" x2="469.5" y2="224.85"/>
<line x1="469.5" y1="224.85" x2="473.5" y2="225.32"/>
<line x1="473.5" y1="225.32" x2="477.5" y2="225.76"/>
<line x1="477.5" y1="225.76" x2="482.5" y2="226.21"/>
<line x1="482.5" y1="226.21" x2="486.5" y2="226.50"/>
<line x1="486.5" y1="226.50" x2="490.5" y2="226.79"/>
<line x1="490.5" y1="226.79" x2="494.5" y2="227.07"/>
<line x1="494.5" y1="227.07" x2="499.5" y2="227.46"/>
<line x1="499.5" y1="227.46" x2="503.5" y2="227.80"/>
<line x1="503.5" y1="227.80" x2="507.5" y2="228.16"/>
<line x1="507.5" y1="228.16" x2="512.5" y2="228.63"/>
<line x1="512.5" y1="228.63" x2="516.5" y2="229.01"/>
<line x1="516.5" y1="229.01" x2="520.5" y2="229.42"/>
<line x1="520.5" y1="229.42" x2="525.5" y2="229.95"/>
<line x1="525.5" y1="229.95" x2="529.5" y2="230.40"/>
<line x1="529.5" y1="230.40" x2="533.5" y2="230.87"/>
<line x1="533.5" y1="230.87" x2="537.5" y2="231.36"/>
<line x1="537.5" y1="231.36" x2="542.5" y2="232.03"/>
<line x1="542.5" y1="232.03" x2="546.5" y2="232.62"/>
<line x1="546.5" y1="232.62" x2="550.5" y2="233.25"/>
<line x1="550.5" y1="233.25" x2="555.5" y2="234.09"/>
<line x1="555.5" y1="234.09" x2="559.5" y2="234.79"/>
<line x1="559.5" y1="234.79" x2="563.5" y2="235.50"/>
<line x1="563.5" y1="235.50" x2="568.5" y2="236.42"/>
<line x1="568.5" y1="236.42" x2="572.5" y2="237.16"/>
<line x1="572.5" y1="237.16" x2="576.5" y2="237.89"/>
<line x1="576.5" y1="237.89" x2="580.5" y2="238.62"/>
<line x1="580.5" y1="238.62" x2="585.5" y2="239.50"/>
<line x1="585.5" y1="239.50" x2="589.5" y2="240.18"/>
<line x1="589.5" y1="240.18" x2="593.5" y2="240.85"/>
<line x1="593.5" y1="240.85" x2="598.5" y2="241.66"/>
<line x1="598.5" y1="241.66" x2="602.5" y2="242.30"/>
<line x1="602.5" y1="242.30" x2="606.5" y2="242.93"/>
<line x1="606.5" y1="242.93" x2="611.5" y2="243.72"/>
<line x1="611.5" y1="243.72" x2="615.5" y2="244.36"/>
<line x1="615.5" y1="244.36" x2="619.5" y2="245.00"/>
<line x1="619.5" y1="245.00" x2="623.5" y2="245.65"/>
<line x1="623.5" y1="245.65" x2="628.5" y2="246.49"/>
<line x1="628.5" y1="246.49" x2="632.5" y2="247.17"/>
<line x1="632.5" y1="247.17" x2="636.5" y2="247.88"/>
<line x1="636.5" y1="247.88" x2="641.5" y2="248.81"/>
<line x1="641.5" y1="248.81" x2="645.5" y2="249.59"/>
<line x1="645.5" y1="249.59" x2="649.5" y2="250.45"/>
<line x1="649.5" y1="250.45" x2="653.5" y2="251.34"/>
<line x1="653.5" y1="251.34" x2="658.5" y2="252.48"/>
<line x1="658.5" y1="252.48" x2="662.5" y2="253.38"/>
<line x1="662.5" y1="253.38" x2="666.5" y2="254.23"/>
<line x1="666.5" y1="254.23" x2="671.5" y2="255.20"/>
<line x1="671.5" y1="255.20" x2="675.5" y2="255.91"/>
<line x1="675.5" y1="255.91" x2="679.5" y2="256.59"/>
<line x1="679.5" y1="256.59" x2="684.5" y2="257.40"/>
<line x1="684.5" y1="257.40" x2="688.5" y2="258.05"/>
<line x1="688.5" y1="258.05" x2="692.5" y2="258.71"/>
<line x1="692.5" y1="258.71" x2="696.5" y2="259.38"/>
<line x1="696.5" y1="259.38" x2="701.5" y2="260.20"/>
<line x1="701.5" y1="260.20" x2="705.5" y2="260.85"/>
<line x1="705.5" y1="260.85" x2="709.5" y2="261.50"/>
<line x1="709.5" y1="261.50" x2="714.5" y2="262.29"/>
<line x1="714.5" y1="262.29" x2="718.5" y2="262.89"/>
<line x1="718.5" y1="262.89" x2="722.5" y2="263.49"/>
<line x1="722.5" y1="263.49" x2="727.5" y2="264.27"/>
<line x1="727.5" y1="264.27" x2="731.5" y2="264.96"/>
<line x1="731.5" y1="264.96" x2="735.5" y2="265.73"/>
<line x1="735.5" y1="265.73" x2="739.5" y2="266.58"/>
<line x1="739.5" y1="266.58" x2="744.5" y2="267.72"/>
<line x1="744.5" y1="267.72" x2="748.5" y2="268.68"/>
<line x1="748.5" y1="268.68" x2="752.5" y2="269.66"/>
<line x1="752.5" y1="269.66" x2="757.5" y2="270.89"/>
<line x1="757.5" y1="270.89" x2="761.5" y2="271.86"/>
<line x1="761.5" y1="271.86" x2="765.5" y2="272.80"/>
<line x1="765.5" y1="272.80" x2="770.5" y2="273.91"/>
<line x1="770.5" y1="273.91" x2="774.5" y2="274.72"/>
<line x1="774.5" y1="274.72" x2="778.5" y2="275.49"/>
<line x1="778.5" y1="275.49" x2="782.5" y2="276.23"/>
<line x1="782.5" y1="276.23" x2="787.5" y2="277.14"/>
<line x1="787.5" y1="277.14" x2="791.5" y2="277.89"/>
<line x1="791.5" y1="277.89" x2="795.5" y2="278.67"/>
<line x1="795.5" y1="278.67" x2="800.5" y2="279.74"/>
<line x1="800.5" y1="279.74" x2="804.5" y2="280.68"/>
<line x1="804.5" y1="280.68" x2="808.5" y2="281.73"/>
<line x1="808.5" y1="281.73" x2="813.5" y2="283.23"/>
<line x1="813.5" y1="283.23" x2="817.5" y2="284.54"/>
<line x1="817.5" y1="284.54" x2="821.5" y2="285.92"/>
<line x1="821.5" y1="285.92" x2="825.5" y2="287.34"/>
<line x1="825.5" y1="287.34" x2="830.5" y2="289.15"/>
<line x1="830.5" y1="289.15" x2="834.5" y2="290.59"/>
<line x1="834.5" y1="290.59" x2="838.5" y2="291.99"/>
<line x1="838.5" y1="291.99" x2="843.5" y2="293.70"/>
<line x1="843.5" y1="293.70" x2="847.5" y2="295.12"/>
<line x1="847.5" y1="295.12" x2="851.5" y2="296.56"/>
<line x1="851.5" y1="296.56" x2="855.5" y2="298.00"/>
<line x1="855.5" y1="298.00" x2="860.5" y2="299.76"/>
<line x1="860.5" y1="299.76" x2="864.5" y2="301.12"/>
<line x1="864.5" y1="301.12" x2="868.5" y2="302.40"/>
<line x1="868.5" y1="302.40" x2="873.5" y2="303.85"/>
<line x1="873.5" y1="303.85" x2="877.5" y2="304.92"/>
<line x1="877.5" y1="304.92" x2="881.5" y2="305.94"/>
<line x1="881.5" y1="305.94" x2="886.5" y2="307.15"/>
<line x1="886.5" y1="307.15" x2="890.5" y2="308.08"/>
<line x1="890.5" y1="308.08" x2="894.5" y2="308.98"/>
<line x1="894.5" y1="308.98" x2="898.5" y2="309.85"/>
<line x1="898.5" y1="309.85" x2="903.5" y2="310.91"/>
<line x1="903.5" y1="310.91" x2="907.5" y2="311.75"/>
<line x1="907.5" y1="311.75" x2="911.5" y2="312.57"/>
<line x1="911.5" y1="312.57" x2="916.5" y2="313.62"/>
<line x1="916.5" y1="313.62" x2="920.5" y2="314.48"/>
<line x1="920.5" y1="314.48" x2="924.5" y2="315.34"/>
<line x1="924.5" y1="315.34" x2="929.5" y2="316.35"/>
<line x1="929.5" y1="316.35" x2="933.5" y2="317.05"/>
<line x1="933.5" y1="317.05" x2="937.5" y2="317.60"/>
<line x1="937.5" y1="317.60" x2="941.5" y2="318.01"/>
<line x1="941.5" y1="318.01" x2="946.5" y2="318.42"/>
<line x1="946.5" y1="318.42" x2="950.5" y2="318.75"/>
<line x1="950.5" y1="318.75" x2="954.5" y2="319.14"/>
<line x1="954.5" y1="319.14" x2="959.5" y2="319.84"/>
<line x1="959.5" y1="319.84" x2="963.5" y2="320.51"/>
<line x1="963.5" y1="320.51" x2="967.5" y2="321.16"/>
<line x1="967.5" y1="321.16" x2="972.5" y2="321.74"/>
<line x1="972.5" y1="321.74" x2="976.5" y2="322.03"/>
<line x1="976.5" y1="322.03" x2="980.5" y2="322.24"/>
<line x1="980.5" y1="322.24" x2="984.5" y2="322.42"/>
<line x1="984.5" y1="322.42" x2="989.5" y2="322.64"/>
<line x1="989.5" y1="322.64" x2="993.5" y2="322.86"/>
<line x1="993.5" y1="322.86" x2="997.5" y2="323.16"/>
<line x1="997.5" y1="323.16" x2="1002.5" y2="323.78"/>
<line x1="1002.5" y1="323.78" x2="1006.5" y2="324.46"/>
<line x1="1006.5" y1="324.46" x2="1010.5" y2="325.07"/>
<line x1="1010.5" y1="325.07" x2="1015.5" y2="325.76"/>
<line x1="1015.5" y1="325.76" x2="1019.5" y2="326.32"/>
<line x1="1019.5" y1="326.32" x2="1023.5" y2="326.87"/>
<line x1="1023.5" y1="326.87" x2="1027.5" y2="327.38"/>
<line x1="1027.5" y1="327.38" x2="1032.5" y2="327.91"/>
<line x1="1032.5" y1="327.91" x2="1036.5" y2="328.24"/>
<line x1="1036.5" y1="328.24" x2="1040.5" y2="328.44"/>
<line x1="1040.5" y1="328.44" x2="1045.5" y2="328.59"/>
<line x1="1045.5" y1="328.59" x2="1049.5" y2="328.68"/>
<line x1="1049.5" y1="328.68" x2="1053.5" y2="328.77"/>
<line x1="1053.5" y1="328.77" x2="1057.5" y2="328.89"/>
<line x1="1057.5" y1="328.89" x2="1062.5" y2="329.09"/>
<line x1="1062.5" y1="329.09" x2="1066.5" y2="329.29"/>
<line x1="1066.5" y1="329.29" x2="1070.5" y2="329.51"/>
<line x1="1070.5" y1="329.51" x2="1075.5" y2="329.84"/>
<line x1="1075.5" y1="329.84" x2="1079.5" y2="330.14"/>
<line x1="1079.5" y1="330.14" x2="1083.5" y2="330.47"/>
<line x1="1083.5" y1="330.47" x2="1088.5" y2="330.96"/>
<line x1="1088.5" y1="330.96" x2="1092.5" y2="331.47"/>
<line x1="1092.5" y1="331.47" x2="1096.5" y2="332.08"/>
<line x1="1096.5" y1="332.08" x2="1100.5" y2="332.76"/>
<line x1="1100.5" y1="332.76" x2="1105.5" y2="333.71"/>
<line x1="1105.5" y1="333.71" x2="1109.5" y2="334.51"/>
<line x1="1109.5" y1="334.51" x2="1113.5" y2="335.35"/>
<line x1="1113.5" y1="335.35" x2="1118.5" y2="336.41"/>
<line x1="1118.5" y1="336.41" x2="1122.5" y2="337.42"/>
<line x1="1122.5" y1="337.42" x2="1126.5" y2="338.59"/>
<line x1="1126.5" y1="338.59" x2="1131.5" y2="340.03"/>
<line x1="1131.5" y1="340.03" x2="1135.5" y2="341.01"/>
<line x1="1135.5" y1="341.01" x2="1139.5" y2="341.72"/>
<line x1="1139.5" y1="341.72" x2="1143.5" y2="342.33"/>
<line x1="1143.5" y1="342.33" x2="1148.5" y2="342.99"/>
<line x1="1148.5" y1="342.99" x2="1152.5" y2="343.47"/>
<line x1="1152.5" y1="343.47" x2="1156.5" y2="343.92"/>
<line x1="1156.5" y1="343.92" x2="1161.5" y2="344.48"/>
<line x1="1161.5" y1="344.48" x2="1165.5" y2="344.94"/>
<line x1="1165.5" y1="344.94" x2="1169.5" y2="345.43"/>
<line x1="1169.5" y1="345.43" x2="1174.5" y2="346.09"/>
<line x1="1174.5" y1="346.09" x2="1178.5" y2="346.60"/>
<line x1="1178.5" y1="346.60" x2="1182.5" y2="347.12"/>
<line x1="1182.5" y1="347.12" x2="1186.5" y2="347.65"/>
<line x1="1186.5" y1="347.65" x2="1191.5" y2="348.33"/>
<line x1="1191.5" y1="348.33" x2="1195.5" y2="348.89"/>
<line x1="1195.5" y1="348.89" x2="1199.5" y2="349.48"/>
<line x1="1199.5" y1="349.48" x2="1204.5" y2="350.27"/>
<line x1="1204.5" y1="350.27" x2="1208.5" y2="350.94"/>
<line x1="1208.5" y1="350.94" x2="1212.5" y2="351.64"/>
<line x1="1212.5" y1="351.64" x2="1217.5" y2="352.54"/>
<line x1="1217.5" y1="352.54" x2="1221.5" y2="353.30"/>
<line x1="1221.5" y1="353.30" x2="1225.5" y2="354.07"/>
<line x1="1225.5" y1="354.07" x2="1229.5" y2="354.87"/>
<line x1="1229.5" y1="354.87" x2="1234.5" y2="355.89"/>
<line x1="1234.5" y1="355.89" x2="1238.5" y2="356.73"/>
<line x1="1238.5" y1="356.73" x2="1242.5" y2="357.59"/>
<line x1="1242.5" y1="357.59" x2="1247.5" y2="358.68"/>
<line x1="1247.5" y1="358.68" x2="1251.5" y2="359.56"/>
<line x1="1251.5" y1="359.56" x2="1255.5" y2="360.46"/>
<line x1="1255.5" y1="360.46" x2="1259.5" y2="361.37"/>
<line x1="1259.5" y1="361.37" x2="1264.5" y2="362.58"/>
<line x1="1264.5" y1="362.58" x2="1268.5" y2="363.62"/>
<line x1="1268.5" y1="363.62" x2="1272.5" y2="364.69"/>
<line x1="1272.5" y1="364.69" x2="1277.5" y2="366.07"/>
<line x1="1277.5" y1="366.07" x2="1281.5" y2="367.18"/>
<line x1="1281.5" y1="367.18" x2="1285.5" y2="368.30"/>
<line x1="1285.5" y1="368.30" x2="1290.5" y2="369.68"/>
<line x1="1290.5" y1="369.68" x2="1294.5" y2="370.75"/>
<line x1="1294.5" y1="370.75" x2="1298.5" y2="371.79"/>
<line x1="1298.5" y1="371.79" x2="1302.5" y2="372.77"/>
<line x1="1302.5" y1="372.77" x2="1307.5" y2="373.91"/>
<line x1="1307.5" y1="373.91" x2="1311.5" y2="374.76"/>
<line x1="1311.5" y1="374.76" x2="1315.5" y2="375.58"/>
<line x1="1315.5" y1="375.58" x2="1320.5" y2="376.57"/>
<line x1="1320.5" y1="376.57" x2="1324.5" y2="377.33"/>
<line x1="1324.5" y1="377.33" x2="1328.5" y2="378.07"/>
<line x1="1328.5" y1="378.07" x2="1333.5" y2="378.98"/>
<line x1="1333.5" y1="378.98" x2="1337.5" y2="379.70"/>
<line x1="1337.5" y1="379.70" x2="1341.5" y2="380.41"/>
<line x1="1341.5" y1="380.41" x2="1345.5" y2="381.12"/>
<line x1="1345.5" y1="381.12" x2="1350.5" y2="382.02"/>
<line x1="1350.5" y1="382.02" x2="1354.5" y2="382.75"/>
<line x1="1354.5" y1="382.75" x2="1358.5" y2="383.50"/>
<line x1="1358.5" y1="383.50" x2="1363.5" y2="384.50"/>
<line x1="1363.5" y1="384.50" x2="1367.5" y2="385.33"/>
<line x1="1367.5" y1="385.33" x2="1371.5" y2="386.17"/>
<line x1="1371.5" y1="386.17" x2="1376.5" y2="387.20"/>
<line x1="1376.5" y1="387.20" x2="1380.5" y2="387.97"/>
<line x1="1380.5" y1="387.97" x2="1384.5" y2="388.68"/>
<line x1="1384.5" y1="388.68" x2="1388.5" y2="389.31"/>
<line x1="1388.5" y1="389.31" x2="1393.5" y2="389.95"/>
<line x1="1393.5" y1="389.95" x2="1397.5" y2="390.36"/>
<line x1="1397.5" y1="390.36" x2="1401.5" y2="390.74"/>
<line x1="1401.5" y1="390.74" x2="1406.5" y2="391.15"/>
<line x1="1406.5" y1="391.15" x2="1410.5" y2="391.41"/>
<line x1="1410.5" y1="391.41" x2="1414.5" y2="391.58"/>
<line x1="1414.5" y1="391.58" x2="1419.5" y2="391.73"/>
<line x1="1419.5" y1="391.73" x2="1423.5" y2="391.82"/>
<line x1="1423.5" y1="391.82" x2="1427.5" y2="391.89"/>
<line x1="1427.5" y1="391.89" x2="1431.5" y2="391.89"/>
<line x1="1431.5" y1="391.89" x2="1436.5" y2="391.55"/>
<line x1="1436.5" y1="391.55" x2="1440.5" y2="391.08"/>
<line x1="1440.5" y1="391.08" x2="1444.5" y2="390.56"/>
<line x1="1444.5" y1="390.56" x2="1449.5" y2="389.88"/>
<line x1="1449.5" y1="389.88" x2="1453.5" y2="389.22"/>
<line x1="1453.5" y1="389.22" x2="1457.5" y2="388.48"/>
</g>
<rect x="700.5" y="315.5" width="860.5" height="14.5" fill="rgba(232,150,40,0.62)" stroke="rgba(245,155,45,0.9)" stroke-width="1"/>
<rect x="2" y="313.1" width="1575" height="3" fill="rgba(110,218,184,0.42)"/>
<rect x="2" y="313.75" width="1575" height="1.7" fill="#6edab8"/>
<rect x="2" y="330.0" width="1575" height="3" fill="rgba(110,218,184,0.42)"/>
<rect x="2" y="330.65" width="1575" height="1.7" fill="#6edab8"/>
<rect x="2" y="343" width="1620" height="1" fill="#33586f"/>
<rect x="2" y="344" width="1620" height="1.25" fill="#e65100"/>
<rect x="2" y="538" width="1622" height="2" fill="#485e69"/>
<rect x="1624" y="539" width="65" height="1" fill="#485e69"/>
<rect x="846.5" y="538.6" width="11" height="3" fill="#1d272c"/>
<rect x="847" y="539" width="10" height="2" fill="#d9d9d9"/>
<polyline points="5.0,594.7 9.2,593.0 13.8,584.7 18.0,600.8 21.7,597.2 25.8,594.7 35.0,594.7 43.8,608.0 48.3,603.3 52.0,582.8 56.7,581.7 60.8,577.8 65.0,580.0 69.2,578.8 73.7,572.8 78.0,579.2 82.2,577.2 86.7,572.0 90.8,569.7 95.0,560.8 99.7,580.8 103.8,579.2 108.0,580.0 112.0,590.0 116.7,585.0 120.8,582.5 125.0,578.8 129.7,596.7 133.8,600.0 138.0,613.0 142.5,613.8 146.7,622.0 151.0,617.8 155.0,626.2 159.7,625.3 164.2,624.2 168.3,618.3 172.5,609.2 176.7,600.8 181.2,608.7 185.8,607.8 190.0,610.8 193.8,612.2 198.0,621.2 202.5,616.3 206.7,614.7 215.8,614.7 220.0,622.0 224.2,636.2 228.3,634.2 232.5,632.5 236.7,630.5 241.2,623.8 245.8,617.0 250.0,617.0 254.2,627.2 258.3,623.0 263.0,621.7 267.2,614.7 271.3,607.0 275.8,608.0 280.0,612.0 284.7,612.0 288.8,610.8 293.0,600.0 297.2,604.7 301.7,590.0 305.8,595.0 310.0,592.8 314.2,590.5 318.8,583.8 323.0,596.3 327.2,608.0 331.7,614.7 335.8,615.0 340.0,615.0 344.5,612.2 348.7,610.8 352.8,607.2 357.0,619.7 361.7,608.0 365.8,609.2 370.0,604.2 374.7,599.2 378.8,598.0 383.0,592.0 387.2,590.8 391.8,591.7 396.0,582.8 400.2,591.7 404.7,605.0 408.8,621.7 413.0,629.7 417.5,630.8 421.7,637.0 425.8,630.8 430.0,635.0 434.7,637.0 438.8,646.7 443.3,647.8 447.5,647.8 452.0,658.0 456.2,659.7 460.5,660.0 464.7,661.7 468.8,662.0 473.0,656.7 477.5,657.8 481.7,658.0 486.2,660.0 490.3,654.2 494.5,653.8 498.8,650.0 503.3,655.0 507.5,652.8 511.7,651.7 516.2,655.8 520.3,657.0 524.7,660.8 528.8,660.0 533.7,665.8 538.0,657.0 542.2,663.0 546.7,663.3 550.8,663.0 555.0,667.0 559.2,656.7 564.2,654.7 568.3,640.8 572.5,641.3 577.0,645.0 581.2,625.8 585.3,623.7 589.5,623.0 593.7,624.7 597.8,623.8 602.2,630.0 606.7,630.8 611.3,630.0 615.0,646.7 620.0,641.7 624.2,642.8 628.0,647.0 632.2,655.0 636.7,654.2 640.8,637.0 645.0,633.8 649.2,630.8 653.8,627.8 658.3,638.3 662.8,650.0 667.0,652.8 671.3,630.0 675.3,629.2 680.0,636.2 684.2,627.8 688.0,620.8 692.5,623.0 696.7,615.3 700.8,608.8 705.5,618.7 709.7,616.2 714.2,625.3 718.0,625.3 722.8,620.0 727.0,620.8 731.2,618.8 735.8,635.8 740.0,640.3 744.2,645.0 748.7,626.2 752.8,627.2 757.0,630.0 761.7,623.3 765.8,618.0 770.0,627.0 774.5,627.2 778.7,627.2 783.0,622.8 787.2,624.7 791.7,623.8 796.2,637.0 800.0,638.8 804.2,639.2 808.7,644.7 813.0,646.2 817.2,651.3 821.7,655.8 825.8,660.0 830.0,660.8 834.2,658.8 838.3,661.7 843.0,664.2 847.2,658.3 851.7,651.2 855.8,650.8 860.0,637.0 864.7,618.7 868.8,617.2 873.0,631.2 877.2,623.8 881.7,625.0 886.2,617.0 890.3,620.8 895.0,600.8 899.2,603.7 903.3,610.0 907.5,616.3 912.0,622.8 916.2,625.0 920.0,617.0 924.7,614.7 928.8,614.7 933.0,616.2 937.5,602.2 942.0,603.0 946.2,600.0 950.8,592.8 955.0,600.8 959.2,599.7 963.3,590.8 967.5,592.8 972.0,594.2 975.8,582.0 980.8,610.8 984.7,610.8 989.2,606.3 993.8,600.8 998.0,603.0 1002.2,613.7 1006.3,618.7 1010.5,618.8 1015.0,618.8 1019.2,626.2 1023.8,628.8 1028.0,618.3 1032.2,608.0 1036.3,607.2 1040.8,612.2 1045.0,605.8 1049.2,599.7 1054.2,597.0 1058.0,608.8 1062.0,615.0 1066.7,609.5 1071.2,605.8 1075.0,615.5 1079.2,625.0 1083.8,620.0 1088.0,620.0 1092.0,629.7 1096.7,627.8 1100.8,636.3 1105.0,642.0 1109.5,640.0 1113.8,640.0 1118.0,642.8 1122.2,650.0 1127.2,637.5 1130.8,614.2 1135.0,617.0 1139.5,613.3 1143.8,608.0 1148.3,605.3 1153.0,601.7 1157.2,610.8 1161.2,619.7 1165.3,624.2 1170.0,629.7 1173.8,613.0 1178.3,617.2 1182.8,632.8 1187.2,627.2 1191.3,626.7 1195.8,623.8 1200.0,630.0 1204.2,631.2 1208.3,621.2 1212.8,625.8 1217.0,625.0 1221.3,626.2 1226.2,631.2 1230.0,623.0 1234.2,625.8 1238.3,628.8 1242.5,630.0 1247.0,631.2 1251.2,632.2 1255.5,629.2 1260.0,623.0 1264.5,627.0 1268.8,629.7 1273.0,644.2 1277.2,648.8 1281.3,629.7 1286.2,627.2 1290.3,632.8 1294.2,632.8 1298.7,628.8 1302.8,625.0 1307.2,627.8 1311.7,623.0 1315.8,626.2 1320.0,624.2 1324.2,615.0 1328.7,618.8 1332.8,623.8 1337.2,623.0 1341.7,616.7 1345.8,616.2 1350.3,609.7 1354.7,609.7 1359.2,639.7 1363.0,621.2 1367.5,611.7 1371.7,612.8 1376.2,607.8 1380.3,615.0 1384.7,607.8 1389.2,613.0 1393.3,604.7 1397.5,603.7 1402.0,603.7 1406.2,603.7 1410.3,602.0 1415.0,593.8 1419.2,608.0 1423.3,607.8 1427.5,605.3 1431.7,600.5 1436.2,590.8 1440.3,592.0 1445.0,583.0 1449.2,583.7 1453.3,592.0 1458.0,590.0" fill="none" stroke="#e2d668" stroke-width="1.15" stroke-linejoin="round"/>
<g font-family="'Liberation Sans', Arial, sans-serif" font-size="12" fill="#d4d7d9" letter-spacing="-0.1">
<text x="1632.5" y="59.90">1.43733</text>
<text x="1632.5" y="97.13">1.42196</text>
<text x="1632.5" y="134.36">1.40659</text>
<text x="1632.5" y="171.59">1.39123</text>
<text x="1632.5" y="208.82">1.37586</text>
<text x="1632.5" y="246.05">1.36049</text>
<text x="1632.5" y="283.28">1.34512</text>
<text x="1632.5" y="320.51">1.32975</text>
<text x="1632.5" y="357.74">1.31439</text>
<text x="1632.5" y="394.97">1.29902</text>
<text x="1632.5" y="432.20">1.28365</text>
<text x="1632.5" y="469.43">1.26828</text>
<text x="1632.5" y="506.66">1.25291</text>
<text x="1632.5" y="539.3">1.23755</text>
<text x="1632.5" y="550.8">100.0</text>
<text x="1632.5" y="590.9">70.0</text>
<text x="1632.5" y="653">30.0</text>
<text x="1632.5" y="694.5">0.0</text>
<text x="4.7" y="707.8" letter-spacing="-0.04">29.12.2017</text>
<text x="138.7" y="707.8" letter-spacing="-0.04">05.02.2018</text>
<text x="271.9" y="707.8" letter-spacing="-0.04">13.03.2018</text>
<text x="404.9" y="707.8" letter-spacing="-0.04">18.04.2018</text>
<text x="536.7" y="707.8" letter-spacing="-0.04">24.05.2018</text>
<text x="670.7" y="707.8" letter-spacing="-0.04">29.06.2018</text>
<text x="804.7" y="707.8" letter-spacing="-0.04">05.08.2018</text>
<text x="937.9" y="707.8" letter-spacing="-0.04">10.09.2018</text>
<text x="1070.9" y="707.8" letter-spacing="-0.04">16.10.2018</text>
<text x="1203.7" y="707.8" letter-spacing="-0.04">21.11.2018</text>
<text x="1336.7" y="707.8" letter-spacing="-0.04">27.12.2018</text>
<text x="1470.7" y="707.8" letter-spacing="-0.04">01.02.2019</text>
<text x="1603.7" y="707.8" letter-spacing="-0.04">04.03.2019</text>
</g>
<rect x="1577" y="307" width="47" height="15" fill="#70d6b7"/>
<rect x="1577" y="324.4" width="47" height="14.6" fill="#70d6b7"/>
<g font-family="'Liberation Sans', Arial, sans-serif" font-size="10" fill="#1f3f8a"><text x="1581" y="318.6" letter-spacing="0.08">1.33048</text><text x="1581" y="335.6" letter-spacing="0.08">1.32356</text></g>
<polygon points="1620,344.5 1629.2,335.5 1681,335.5 1681,353 1629.2,353" fill="#e65100"/>
<rect x="1629" y="335" width="52" height="0.8" fill="#2f5168"/>
<text x="1632.5" y="350" font-family="'Liberation Sans', Arial, sans-serif" font-size="12" letter-spacing="-0.22" fill="#ffffff">1.31807</text>
<g font-family="'Liberation Sans', Arial, sans-serif" font-size="13"><text x="1564" y="524.8" fill="#e58a16">08</text><text x="1581" y="524.8" fill="#b0babf" letter-spacing="-0.5">H</text><text x="1595" y="524.8" fill="#e58a16">39</text><text x="1611.2" y="524.8" fill="#b0babf">M</text></g>
<g fill="#b9bdbf"><rect x="6" y="521.1999999999999" width="10" height="4.2"/><rect x="6" y="526.4" width="10" height="1.2"/><rect x="6" y="528.8" width="10" height="1.4"/></g>
<rect x="12" y="522.6" width="3" height="1.2" fill="#263238"/>
<g stroke="#b9bdbf" stroke-width="2.6" stroke-linecap="butt"><line x1="20.4" y1="522.1999999999999" x2="27.6" y2="529.4"/><line x1="27.6" y1="522.1999999999999" x2="20.4" y2="529.4"/></g>
<text x="30.6" y="532.0" font-family="'Liberation Sans', Arial, sans-serif" font-size="10" fill="#e0e1e2" textLength="20.9" lengthAdjust="spacingAndGlyphs">EMA</text>
<text x="56.9" y="532.0" font-family="'Liberation Sans', Arial, sans-serif" font-size="10" fill="#e0e1e2" textLength="20.9" lengthAdjust="spacingAndGlyphs">[200,</text>
<text x="82.9" y="532.0" font-family="'Liberation Sans', Arial, sans-serif" font-size="10" fill="#e0e1e2" textLength="7.4" lengthAdjust="spacingAndGlyphs">0]</text>
<text x="95.3" y="532.0" font-family="'Liberation Sans', Arial, sans-serif" font-size="10" fill="#e0e1e2" textLength="35" lengthAdjust="spacingAndGlyphs">1.29934</text>
<g fill="#b9bdbf"><rect x="6" y="681.0999999999999" width="10" height="4.2"/><rect x="6" y="686.3" width="10" height="1.2"/><rect x="6" y="688.6999999999999" width="10" height="1.4"/></g>
<rect x="12" y="682.5" width="3" height="1.2" fill="#263238"/>
<g stroke="#b9bdbf" stroke-width="2.6" stroke-linecap="butt"><line x1="20.4" y1="682.0999999999999" x2="27.6" y2="689.3"/><line x1="27.6" y1="682.0999999999999" x2="20.4" y2="689.3"/></g>
<text x="30.6" y="691.9" font-family="'Liberation Sans', Arial, sans-serif" font-size="10" fill="#e0e1e2" textLength="14.4" lengthAdjust="spacingAndGlyphs">RSI</text>
<text x="51" y="691.9" font-family="'Liberation Sans', Arial, sans-serif" font-size="10" fill="#e0e1e2" textLength="15.3" lengthAdjust="spacingAndGlyphs">[14]</text>
<text x="71.5" y="691.9" font-family="'Liberation Sans', Arial, sans-serif" font-size="10" fill="#e0e1e2" textLength="19.1" lengthAdjust="spacingAndGlyphs">67.3</text>
<rect x="10" y="5" width="88" height="29" fill="#1b2429"/>
<path d="M103,0 H138 V24.5 Q138,28.5 134,28.5 H107 Q103,28.5 103,24.5 Z" fill="#1b2429"/>
<text x="13.8" y="23.8" font-family="'Liberation Sans', Arial, sans-serif" font-size="10.4" font-weight="bold" fill="#e4e4e4" letter-spacing="-0.2">GBPUSD</text>
<text x="67.5" y="23.2" font-family="'Liberation Sans', Arial, sans-serif" font-size="8.6" font-weight="bold" fill="#9fb0b8" letter-spacing="-0.3">FX</text>
<polygon points="86,18.8 94,18.8 90,22.8" fill="#e0e0e0"/>
<text x="107.5" y="23.2" font-family="'Liberation Sans', Arial, sans-serif" font-size="10" fill="#b4c0c6" letter-spacing="-0.6">D1</text>
<polygon points="127,18.8 135,18.8 131,22.8" fill="#e0e0e0"/>
</svg>
</body></html>
